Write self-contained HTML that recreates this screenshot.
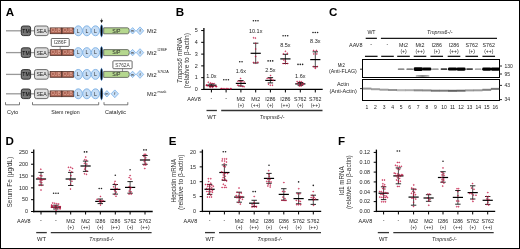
<!DOCTYPE html>
<html><head><meta charset="utf-8"><style>
html,body{margin:0;padding:0;background:#fff;}
body{width:520px;height:249px;overflow:hidden;}
.fig{position:absolute;left:0;top:0;width:518px;height:247px;border:1px solid #000;}
svg{position:absolute;left:0;top:0;font-family:"Liberation Sans", sans-serif;will-change:transform;}
</style></head><body>
<div class="fig"></div>
<svg width="520" height="249" viewBox="0 0 520 249">
<text x="5.8" y="15.7" font-size="11.6" font-weight="bold" fill="#000">A</text>
<text x="175.8" y="15.7" font-size="11.6" font-weight="bold" fill="#000">B</text>
<text x="329.0" y="15.9" font-size="11.6" font-weight="bold" fill="#000">C</text>
<text x="5.6" y="145.1" font-size="11.6" font-weight="bold" fill="#000">D</text>
<text x="168.8" y="145.1" font-size="11.6" font-weight="bold" fill="#000">E</text>
<text x="338.0" y="145.1" font-size="11.6" font-weight="bold" fill="#000">F</text>
<line x1="6" y1="30.8" x2="21" y2="30.8" stroke="#999" stroke-width="1.3"/>
<line x1="30" y1="30.8" x2="35" y2="30.8" stroke="#999" stroke-width="1.3"/>
<line x1="48" y1="30.8" x2="50.5" y2="30.8" stroke="#999" stroke-width="1.3"/>
<rect x="21.3" y="26.0" width="9.3" height="9.6" rx="2" fill="#777" stroke="#262626" stroke-width="0.9"/>
<text x="25.95" y="32.8" font-size="5.5" text-anchor="middle" textLength="7.4" lengthAdjust="spacingAndGlyphs" fill="#000">TM</text>
<rect x="34.5" y="26.0" width="13.7" height="9.6" rx="2" fill="#dedede" stroke="#4a4a4a" stroke-width="0.8"/>
<text x="41.5" y="32.8" font-size="5.6" text-anchor="middle" textLength="10.2" lengthAdjust="spacingAndGlyphs" fill="#222">SEA</text>
<rect x="50.1" y="27.900000000000002" width="11.6" height="5.8" fill="#ad6656" stroke="#4a2c24" stroke-width="0.75"/>
<text x="55.9" y="32.4" font-size="4.5" text-anchor="middle" textLength="9.6" lengthAdjust="spacingAndGlyphs" fill="#e8b0a0">CUB</text>
<rect x="62" y="27.900000000000002" width="11.6" height="5.8" fill="#ad6656" stroke="#4a2c24" stroke-width="0.75"/>
<text x="67.8" y="32.4" font-size="4.5" text-anchor="middle" textLength="9.6" lengthAdjust="spacingAndGlyphs" fill="#e8b0a0">CUB</text>
<ellipse cx="78.25" cy="30.8" rx="4.1" ry="4.95" fill="#c6ddf5" stroke="#7cb0e4" stroke-width="0.9"/>
<text x="78.25" y="32.6" font-size="5.1" text-anchor="middle" fill="#2a2a2a">L</text>
<ellipse cx="86.8" cy="30.8" rx="4.1" ry="4.95" fill="#c6ddf5" stroke="#7cb0e4" stroke-width="0.9"/>
<text x="86.8" y="32.6" font-size="5.1" text-anchor="middle" fill="#2a2a2a">L</text>
<ellipse cx="95.45" cy="30.8" rx="4.1" ry="4.95" fill="#c6ddf5" stroke="#7cb0e4" stroke-width="0.9"/>
<text x="95.45" y="32.6" font-size="5.1" text-anchor="middle" fill="#2a2a2a">L</text>
<ellipse cx="101.55" cy="30.8" rx="1.2" ry="6.1" fill="#000" stroke="#2f7fd6" stroke-width="0.5"/>
<path d="M103.7 27.8 H127.5 Q129.3 27.8 129.3 30.8 Q129.3 33.8 127.5 33.8 H103.7 Z" fill="#b5d78e" stroke="#454545" stroke-width="0.7"/>
<text x="116.4" y="32.6" font-size="5.2" text-anchor="middle" fill="#222">S/P</text>
<path d="M129.6 30.8 L132.6 27.6 L135.6 30.8 L132.6 34.0 Z" fill="#c9e0f7" stroke="#6aa7e6" stroke-width="0.7"/>
<text x="132.6" y="32.0" font-size="3.8" text-anchor="middle" fill="#222">m</text>
<path d="M136.3 30.8 L140.0 26.900000000000002 L143.7 30.8 L140.0 34.7 Z" fill="#c9e0f7" stroke="#6aa7e6" stroke-width="0.7"/>
<text x="140.0" y="32.2" font-size="4.0" text-anchor="middle" fill="#222">f</text>
<line x1="6" y1="52.6" x2="21" y2="52.6" stroke="#999" stroke-width="1.3"/>
<line x1="30" y1="52.6" x2="35" y2="52.6" stroke="#999" stroke-width="1.3"/>
<line x1="48" y1="52.6" x2="50.5" y2="52.6" stroke="#999" stroke-width="1.3"/>
<rect x="21.3" y="47.800000000000004" width="9.3" height="9.6" rx="2" fill="#777" stroke="#262626" stroke-width="0.9"/>
<text x="25.95" y="54.6" font-size="5.5" text-anchor="middle" textLength="7.4" lengthAdjust="spacingAndGlyphs" fill="#000">TM</text>
<rect x="34.5" y="47.800000000000004" width="13.7" height="9.6" rx="2" fill="#dedede" stroke="#4a4a4a" stroke-width="0.8"/>
<text x="41.5" y="54.6" font-size="5.6" text-anchor="middle" textLength="10.2" lengthAdjust="spacingAndGlyphs" fill="#222">SEA</text>
<rect x="50.1" y="49.7" width="11.6" height="5.8" fill="#ad6656" stroke="#4a2c24" stroke-width="0.75"/>
<text x="55.9" y="54.2" font-size="4.5" text-anchor="middle" textLength="9.6" lengthAdjust="spacingAndGlyphs" fill="#e8b0a0">CUB</text>
<rect x="62" y="49.7" width="11.6" height="5.8" fill="#ad6656" stroke="#4a2c24" stroke-width="0.75"/>
<text x="67.8" y="54.2" font-size="4.5" text-anchor="middle" textLength="9.6" lengthAdjust="spacingAndGlyphs" fill="#e8b0a0">CUB</text>
<ellipse cx="78.25" cy="52.6" rx="4.1" ry="4.95" fill="#c6ddf5" stroke="#7cb0e4" stroke-width="0.9"/>
<text x="78.25" y="54.4" font-size="5.1" text-anchor="middle" fill="#2a2a2a">L</text>
<ellipse cx="86.8" cy="52.6" rx="4.1" ry="4.95" fill="#c6ddf5" stroke="#7cb0e4" stroke-width="0.9"/>
<text x="86.8" y="54.4" font-size="5.1" text-anchor="middle" fill="#2a2a2a">L</text>
<ellipse cx="95.45" cy="52.6" rx="4.1" ry="4.95" fill="#c6ddf5" stroke="#7cb0e4" stroke-width="0.9"/>
<text x="95.45" y="54.4" font-size="5.1" text-anchor="middle" fill="#2a2a2a">L</text>
<ellipse cx="101.55" cy="52.6" rx="1.2" ry="6.1" fill="#000" stroke="#2f7fd6" stroke-width="0.5"/>
<path d="M103.7 49.6 H127.5 Q129.3 49.6 129.3 52.6 Q129.3 55.6 127.5 55.6 H103.7 Z" fill="#b5d78e" stroke="#454545" stroke-width="0.7"/>
<text x="116.4" y="54.4" font-size="5.2" text-anchor="middle" fill="#222">S/P</text>
<path d="M129.6 52.6 L132.6 49.4 L135.6 52.6 L132.6 55.800000000000004 Z" fill="#c9e0f7" stroke="#6aa7e6" stroke-width="0.7"/>
<text x="132.6" y="53.800000000000004" font-size="3.8" text-anchor="middle" fill="#222">m</text>
<path d="M136.3 52.6 L140.0 48.7 L143.7 52.6 L140.0 56.5 Z" fill="#c9e0f7" stroke="#6aa7e6" stroke-width="0.7"/>
<text x="140.0" y="54.0" font-size="4.0" text-anchor="middle" fill="#222">f</text>
<line x1="6" y1="74.4" x2="21" y2="74.4" stroke="#999" stroke-width="1.3"/>
<line x1="30" y1="74.4" x2="35" y2="74.4" stroke="#999" stroke-width="1.3"/>
<line x1="48" y1="74.4" x2="50.5" y2="74.4" stroke="#999" stroke-width="1.3"/>
<rect x="21.3" y="69.60000000000001" width="9.3" height="9.6" rx="2" fill="#777" stroke="#262626" stroke-width="0.9"/>
<text x="25.95" y="76.4" font-size="5.5" text-anchor="middle" textLength="7.4" lengthAdjust="spacingAndGlyphs" fill="#000">TM</text>
<rect x="34.5" y="69.60000000000001" width="13.7" height="9.6" rx="2" fill="#dedede" stroke="#4a4a4a" stroke-width="0.8"/>
<text x="41.5" y="76.4" font-size="5.6" text-anchor="middle" textLength="10.2" lengthAdjust="spacingAndGlyphs" fill="#222">SEA</text>
<rect x="50.1" y="71.5" width="11.6" height="5.8" fill="#ad6656" stroke="#4a2c24" stroke-width="0.75"/>
<text x="55.9" y="76.0" font-size="4.5" text-anchor="middle" textLength="9.6" lengthAdjust="spacingAndGlyphs" fill="#e8b0a0">CUB</text>
<rect x="62" y="71.5" width="11.6" height="5.8" fill="#ad6656" stroke="#4a2c24" stroke-width="0.75"/>
<text x="67.8" y="76.0" font-size="4.5" text-anchor="middle" textLength="9.6" lengthAdjust="spacingAndGlyphs" fill="#e8b0a0">CUB</text>
<ellipse cx="78.25" cy="74.4" rx="4.1" ry="4.95" fill="#c6ddf5" stroke="#7cb0e4" stroke-width="0.9"/>
<text x="78.25" y="76.2" font-size="5.1" text-anchor="middle" fill="#2a2a2a">L</text>
<ellipse cx="86.8" cy="74.4" rx="4.1" ry="4.95" fill="#c6ddf5" stroke="#7cb0e4" stroke-width="0.9"/>
<text x="86.8" y="76.2" font-size="5.1" text-anchor="middle" fill="#2a2a2a">L</text>
<ellipse cx="95.45" cy="74.4" rx="4.1" ry="4.95" fill="#c6ddf5" stroke="#7cb0e4" stroke-width="0.9"/>
<text x="95.45" y="76.2" font-size="5.1" text-anchor="middle" fill="#2a2a2a">L</text>
<ellipse cx="101.55" cy="74.4" rx="1.2" ry="6.1" fill="#000" stroke="#2f7fd6" stroke-width="0.5"/>
<path d="M103.7 71.4 H127.5 Q129.3 71.4 129.3 74.4 Q129.3 77.4 127.5 77.4 H103.7 Z" fill="#b5d78e" stroke="#454545" stroke-width="0.7"/>
<text x="116.4" y="76.2" font-size="5.2" text-anchor="middle" fill="#222">S/P</text>
<path d="M129.6 74.4 L132.6 71.2 L135.6 74.4 L132.6 77.60000000000001 Z" fill="#c9e0f7" stroke="#6aa7e6" stroke-width="0.7"/>
<text x="132.6" y="75.60000000000001" font-size="3.8" text-anchor="middle" fill="#222">m</text>
<path d="M136.3 74.4 L140.0 70.5 L143.7 74.4 L140.0 78.30000000000001 Z" fill="#c9e0f7" stroke="#6aa7e6" stroke-width="0.7"/>
<text x="140.0" y="75.80000000000001" font-size="4.0" text-anchor="middle" fill="#222">f</text>
<line x1="6" y1="93.8" x2="21" y2="93.8" stroke="#999" stroke-width="1.3"/>
<line x1="30" y1="93.8" x2="35" y2="93.8" stroke="#999" stroke-width="1.3"/>
<line x1="48" y1="93.8" x2="50.5" y2="93.8" stroke="#999" stroke-width="1.3"/>
<rect x="21.3" y="89.0" width="9.3" height="9.6" rx="2" fill="#777" stroke="#262626" stroke-width="0.9"/>
<text x="25.95" y="95.8" font-size="5.5" text-anchor="middle" textLength="7.4" lengthAdjust="spacingAndGlyphs" fill="#000">TM</text>
<rect x="34.5" y="89.0" width="13.7" height="9.6" rx="2" fill="#dedede" stroke="#4a4a4a" stroke-width="0.8"/>
<text x="41.5" y="95.8" font-size="5.6" text-anchor="middle" textLength="10.2" lengthAdjust="spacingAndGlyphs" fill="#222">SEA</text>
<rect x="50.1" y="90.89999999999999" width="11.6" height="5.8" fill="#ad6656" stroke="#4a2c24" stroke-width="0.75"/>
<text x="55.9" y="95.39999999999999" font-size="4.5" text-anchor="middle" textLength="9.6" lengthAdjust="spacingAndGlyphs" fill="#e8b0a0">CUB</text>
<rect x="62" y="90.89999999999999" width="11.6" height="5.8" fill="#ad6656" stroke="#4a2c24" stroke-width="0.75"/>
<text x="67.8" y="95.39999999999999" font-size="4.5" text-anchor="middle" textLength="9.6" lengthAdjust="spacingAndGlyphs" fill="#e8b0a0">CUB</text>
<ellipse cx="78.25" cy="93.8" rx="4.1" ry="4.95" fill="#c6ddf5" stroke="#7cb0e4" stroke-width="0.9"/>
<text x="78.25" y="95.6" font-size="5.1" text-anchor="middle" fill="#2a2a2a">L</text>
<ellipse cx="86.8" cy="93.8" rx="4.1" ry="4.95" fill="#c6ddf5" stroke="#7cb0e4" stroke-width="0.9"/>
<text x="86.8" y="95.6" font-size="5.1" text-anchor="middle" fill="#2a2a2a">L</text>
<ellipse cx="95.45" cy="93.8" rx="4.1" ry="4.95" fill="#c6ddf5" stroke="#7cb0e4" stroke-width="0.9"/>
<text x="95.45" y="95.6" font-size="5.1" text-anchor="middle" fill="#2a2a2a">L</text>
<ellipse cx="101.55" cy="93.8" rx="1.2" ry="6.1" fill="#000" stroke="#2f7fd6" stroke-width="0.5"/>
<path d="M103.9 93.8 L106.9 90.6 L109.9 93.8 L106.9 97.0 Z" fill="#c9e0f7" stroke="#6aa7e6" stroke-width="0.7"/>
<text x="106.9" y="95.0" font-size="3.8" text-anchor="middle" fill="#222">m</text>
<path d="M111.1 93.8 L114.8 89.89999999999999 L118.5 93.8 L114.8 97.7 Z" fill="#c9e0f7" stroke="#6aa7e6" stroke-width="0.7"/>
<text x="114.8" y="95.2" font-size="4.0" text-anchor="middle" fill="#222">f</text>
<text x="147.1" y="32.9" font-size="5.7" textLength="9.5" lengthAdjust="spacingAndGlyphs" fill="#222">Mt2</text>
<text x="147.1" y="54.7" font-size="5.7" textLength="9.5" lengthAdjust="spacingAndGlyphs" fill="#222">Mt2</text>
<text x="157.5" y="51.3" font-size="4.2" textLength="9.6" lengthAdjust="spacingAndGlyphs" fill="#222">I286F</text>
<text x="147.1" y="76.5" font-size="5.7" textLength="9.5" lengthAdjust="spacingAndGlyphs" fill="#222">Mt2</text>
<text x="157.5" y="73.1" font-size="4.2" textLength="11.2" lengthAdjust="spacingAndGlyphs" fill="#222">S762A</text>
<text x="147.1" y="95.9" font-size="5.7" textLength="9.5" lengthAdjust="spacingAndGlyphs" fill="#222">Mt2</text>
<text x="157.5" y="92.5" font-size="4.2" textLength="9.0" lengthAdjust="spacingAndGlyphs" fill="#222">mask</text>
<rect x="51.3" y="38.5" width="17.9" height="7.9" rx="0.8" fill="#fff" stroke="#444" stroke-width="0.8"/>
<text x="60.2" y="44.4" font-size="5.2" text-anchor="middle" textLength="12.8" lengthAdjust="spacingAndGlyphs" fill="#444">I286F</text>
<line x1="60.2" y1="46.2" x2="60.2" y2="50" stroke="#555" stroke-width="0.6"/>
<rect x="112.9" y="60.8" width="19.2" height="7.9" rx="0.8" fill="#fff" stroke="#444" stroke-width="0.8"/>
<text x="122.5" y="66.7" font-size="5.2" text-anchor="middle" textLength="14.5" lengthAdjust="spacingAndGlyphs" fill="#444">S762A</text>
<line x1="122.5" y1="68.6" x2="122.5" y2="71.6" stroke="#555" stroke-width="0.6"/>
<line x1="101.6" y1="18.6" x2="101.6" y2="21" stroke="#222" stroke-width="0.6"/>
<path d="M100.1 20.3 L103.1 20.3 L101.6 23.1 Z" fill="#111"/>
<path d="M5.5 102.2 V104.8 H19.5 V102.2" fill="none" stroke="#555" stroke-width="0.8"/>
<path d="M32.5 102.2 V104.8 H98.7 V102.2" fill="none" stroke="#555" stroke-width="0.8"/>
<path d="M104 102.2 V104.8 H127.8 V102.2" fill="none" stroke="#555" stroke-width="0.8"/>
<text x="12.6" y="113.9" font-size="5.4" text-anchor="middle" textLength="11.2" lengthAdjust="spacingAndGlyphs" fill="#222">Cyto</text>
<text x="65.4" y="113.9" font-size="5.4" text-anchor="middle" textLength="28.5" lengthAdjust="spacingAndGlyphs" fill="#222">Stem region</text>
<text x="115.6" y="113.9" font-size="5.4" text-anchor="middle" textLength="21" lengthAdjust="spacingAndGlyphs" fill="#222">Catalytic</text>
<line x1="203.9" y1="27.9" x2="203.9" y2="90.10000000000001" stroke="#000" stroke-width="1.3"/>
<line x1="203.25" y1="89.45" x2="322.7" y2="89.45" stroke="#000" stroke-width="1.3"/>
<line x1="201.20000000000002" y1="89.45" x2="203.9" y2="89.45" stroke="#000" stroke-width="1.0"/>
<text x="197.7" y="91.25" font-size="5.4" text-anchor="end" fill="#222">0</text>
<line x1="201.20000000000002" y1="77.67" x2="203.9" y2="77.67" stroke="#000" stroke-width="1.0"/>
<text x="197.7" y="79.47" font-size="5.4" text-anchor="end" fill="#222">1</text>
<line x1="201.20000000000002" y1="65.89" x2="203.9" y2="65.89" stroke="#000" stroke-width="1.0"/>
<text x="197.7" y="67.69" font-size="5.4" text-anchor="end" fill="#222">2</text>
<line x1="201.20000000000002" y1="54.11000000000001" x2="203.9" y2="54.11000000000001" stroke="#000" stroke-width="1.0"/>
<text x="197.7" y="55.910000000000004" font-size="5.4" text-anchor="end" fill="#222">3</text>
<line x1="201.20000000000002" y1="42.330000000000005" x2="203.9" y2="42.330000000000005" stroke="#000" stroke-width="1.0"/>
<text x="197.7" y="44.13" font-size="5.4" text-anchor="end" fill="#222">4</text>
<line x1="201.20000000000002" y1="30.550000000000004" x2="203.9" y2="30.550000000000004" stroke="#000" stroke-width="1.0"/>
<text x="197.7" y="32.35" font-size="5.4" text-anchor="end" fill="#222">5</text>
<line x1="211.4" y1="89.45" x2="211.4" y2="92.45" stroke="#000" stroke-width="1.0"/>
<line x1="226.1" y1="89.45" x2="226.1" y2="92.45" stroke="#000" stroke-width="1.0"/>
<line x1="240.9" y1="89.45" x2="240.9" y2="92.45" stroke="#000" stroke-width="1.0"/>
<line x1="255.7" y1="89.45" x2="255.7" y2="92.45" stroke="#000" stroke-width="1.0"/>
<line x1="270.4" y1="89.45" x2="270.4" y2="92.45" stroke="#000" stroke-width="1.0"/>
<line x1="285.4" y1="89.45" x2="285.4" y2="92.45" stroke="#000" stroke-width="1.0"/>
<line x1="300.3" y1="89.45" x2="300.3" y2="92.45" stroke="#000" stroke-width="1.0"/>
<line x1="315.3" y1="89.45" x2="315.3" y2="92.45" stroke="#000" stroke-width="1.0"/>
<text transform="translate(182.1,60.2) rotate(-90)" x="0" y="0" font-size="6.5" text-anchor="middle" fill="#333" textLength="46.3" lengthAdjust="spacingAndGlyphs"><tspan font-style="italic">Tmprss6</tspan> mRNA</text>
<text transform="translate(189.0,60.7) rotate(-90)" x="0" y="0" font-size="6.5" text-anchor="middle" fill="#333" textLength="55.5" lengthAdjust="spacingAndGlyphs">(relative to β-actin)</text>
<line x1="211.4" y1="84" x2="211.4" y2="86.5" stroke="#222" stroke-width="0.8"/>
<line x1="208.70000000000002" y1="84" x2="214.1" y2="84" stroke="#111" stroke-width="0.9"/>
<line x1="208.70000000000002" y1="86.5" x2="214.1" y2="86.5" stroke="#111" stroke-width="0.9"/>
<line x1="206.3" y1="85.2" x2="216.5" y2="85.2" stroke="#000" stroke-width="1.2"/>
<circle cx="208.29" cy="82.20" r="0.5" fill="#c0103f" fill-opacity="0.7" stroke="#c0103f" stroke-width="0.5"/>
<circle cx="210.56" cy="82.96" r="0.5" fill="#c0103f" fill-opacity="0.7" stroke="#c0103f" stroke-width="0.5"/>
<circle cx="212.22" cy="83.51" r="0.5" fill="#c0103f" fill-opacity="0.7" stroke="#c0103f" stroke-width="0.5"/>
<circle cx="214.21" cy="83.67" r="0.5" fill="#c0103f" fill-opacity="0.7" stroke="#c0103f" stroke-width="0.5"/>
<circle cx="206.40" cy="85.03" r="0.5" fill="#c0103f" fill-opacity="0.7" stroke="#c0103f" stroke-width="0.5"/>
<circle cx="206.40" cy="85.49" r="0.5" fill="#c0103f" fill-opacity="0.7" stroke="#c0103f" stroke-width="0.5"/>
<circle cx="207.48" cy="85.75" r="0.5" fill="#c0103f" fill-opacity="0.7" stroke="#c0103f" stroke-width="0.5"/>
<circle cx="209.68" cy="85.97" r="0.5" fill="#c0103f" fill-opacity="0.7" stroke="#c0103f" stroke-width="0.5"/>
<circle cx="211.23" cy="86.17" r="0.5" fill="#c0103f" fill-opacity="0.7" stroke="#c0103f" stroke-width="0.5"/>
<circle cx="213.67" cy="86.20" r="0.5" fill="#c0103f" fill-opacity="0.7" stroke="#c0103f" stroke-width="0.5"/>
<circle cx="215.43" cy="86.43" r="0.5" fill="#c0103f" fill-opacity="0.7" stroke="#c0103f" stroke-width="0.5"/>
<circle cx="216.40" cy="86.46" r="0.5" fill="#c0103f" fill-opacity="0.7" stroke="#c0103f" stroke-width="0.5"/>
<circle cx="216.40" cy="86.60" r="0.5" fill="#c0103f" fill-opacity="0.7" stroke="#c0103f" stroke-width="0.5"/>
<circle cx="210.20" cy="87.40" r="0.5" fill="#c0103f" fill-opacity="0.7" stroke="#c0103f" stroke-width="0.5"/>
<circle cx="212.49" cy="87.40" r="0.5" fill="#c0103f" fill-opacity="0.7" stroke="#c0103f" stroke-width="0.5"/>
<text x="211.4" y="78.39999999999999" font-size="5.5" text-anchor="middle" fill="#222">1.0x</text>
<circle cx="221.10" cy="88.50" r="0.5" fill="#c0103f" fill-opacity="0.7" stroke="#c0103f" stroke-width="0.5"/>
<circle cx="221.93" cy="88.52" r="0.5" fill="#c0103f" fill-opacity="0.7" stroke="#c0103f" stroke-width="0.5"/>
<circle cx="223.97" cy="88.57" r="0.5" fill="#c0103f" fill-opacity="0.7" stroke="#c0103f" stroke-width="0.5"/>
<circle cx="226.22" cy="88.57" r="0.5" fill="#c0103f" fill-opacity="0.7" stroke="#c0103f" stroke-width="0.5"/>
<circle cx="227.93" cy="88.58" r="0.5" fill="#c0103f" fill-opacity="0.7" stroke="#c0103f" stroke-width="0.5"/>
<circle cx="230.38" cy="88.70" r="0.5" fill="#c0103f" fill-opacity="0.7" stroke="#c0103f" stroke-width="0.5"/>
<circle cx="231.10" cy="88.70" r="0.5" fill="#c0103f" fill-opacity="0.7" stroke="#c0103f" stroke-width="0.5"/>
<circle cx="223.80" cy="79.7" r="0.8" fill="#222"/>
<circle cx="226.10" cy="79.7" r="0.8" fill="#222"/>
<circle cx="228.40" cy="79.7" r="0.8" fill="#222"/>
<line x1="240.9" y1="80.5" x2="240.9" y2="86" stroke="#222" stroke-width="0.8"/>
<line x1="238.20000000000002" y1="80.5" x2="243.6" y2="80.5" stroke="#111" stroke-width="0.9"/>
<line x1="238.20000000000002" y1="86" x2="243.6" y2="86" stroke="#111" stroke-width="0.9"/>
<line x1="235.8" y1="83.4" x2="246.0" y2="83.4" stroke="#000" stroke-width="1.2"/>
<circle cx="240.63" cy="78.40" r="0.5" fill="#c0103f" fill-opacity="0.7" stroke="#c0103f" stroke-width="0.5"/>
<circle cx="237.92" cy="81.20" r="0.5" fill="#c0103f" fill-opacity="0.7" stroke="#c0103f" stroke-width="0.5"/>
<circle cx="239.97" cy="81.39" r="0.5" fill="#c0103f" fill-opacity="0.7" stroke="#c0103f" stroke-width="0.5"/>
<circle cx="241.91" cy="81.63" r="0.5" fill="#c0103f" fill-opacity="0.7" stroke="#c0103f" stroke-width="0.5"/>
<circle cx="244.10" cy="81.98" r="0.5" fill="#c0103f" fill-opacity="0.7" stroke="#c0103f" stroke-width="0.5"/>
<circle cx="237.70" cy="85.16" r="0.5" fill="#c0103f" fill-opacity="0.7" stroke="#c0103f" stroke-width="0.5"/>
<circle cx="238.83" cy="85.30" r="0.5" fill="#c0103f" fill-opacity="0.7" stroke="#c0103f" stroke-width="0.5"/>
<circle cx="240.74" cy="85.96" r="0.5" fill="#c0103f" fill-opacity="0.7" stroke="#c0103f" stroke-width="0.5"/>
<circle cx="242.68" cy="86.59" r="0.5" fill="#c0103f" fill-opacity="0.7" stroke="#c0103f" stroke-width="0.5"/>
<circle cx="244.10" cy="86.70" r="0.5" fill="#c0103f" fill-opacity="0.7" stroke="#c0103f" stroke-width="0.5"/>
<circle cx="239.75" cy="61.7" r="0.8" fill="#222"/>
<circle cx="242.05" cy="61.7" r="0.8" fill="#222"/>
<text x="240.9" y="72.8" font-size="5.5" text-anchor="middle" fill="#222">1.6x</text>
<line x1="255.7" y1="43.2" x2="255.7" y2="63" stroke="#222" stroke-width="0.8"/>
<line x1="253.0" y1="43.2" x2="258.4" y2="43.2" stroke="#111" stroke-width="0.9"/>
<line x1="253.0" y1="63" x2="258.4" y2="63" stroke="#111" stroke-width="0.9"/>
<line x1="250.6" y1="53.3" x2="260.8" y2="53.3" stroke="#000" stroke-width="1.2"/>
<circle cx="253.60" cy="37.80" r="0.5" fill="#c0103f" fill-opacity="0.7" stroke="#c0103f" stroke-width="0.5"/>
<circle cx="255.40" cy="38.10" r="0.5" fill="#c0103f" fill-opacity="0.7" stroke="#c0103f" stroke-width="0.5"/>
<circle cx="255.70" cy="43.30" r="0.5" fill="#c0103f" fill-opacity="0.7" stroke="#c0103f" stroke-width="0.5"/>
<circle cx="255.70" cy="49.00" r="0.5" fill="#c0103f" fill-opacity="0.7" stroke="#c0103f" stroke-width="0.5"/>
<circle cx="255.70" cy="56.50" r="0.5" fill="#c0103f" fill-opacity="0.7" stroke="#c0103f" stroke-width="0.5"/>
<circle cx="253.40" cy="62.40" r="0.5" fill="#c0103f" fill-opacity="0.7" stroke="#c0103f" stroke-width="0.5"/>
<circle cx="255.70" cy="63.10" r="0.5" fill="#c0103f" fill-opacity="0.7" stroke="#c0103f" stroke-width="0.5"/>
<circle cx="257.90" cy="62.20" r="0.5" fill="#c0103f" fill-opacity="0.7" stroke="#c0103f" stroke-width="0.5"/>
<circle cx="253.40" cy="20.7" r="0.8" fill="#222"/>
<circle cx="255.70" cy="20.7" r="0.8" fill="#222"/>
<circle cx="258.00" cy="20.7" r="0.8" fill="#222"/>
<text x="255.7" y="32.9" font-size="5.5" text-anchor="middle" fill="#222">10.1x</text>
<line x1="270.4" y1="77.6" x2="270.4" y2="82.9" stroke="#222" stroke-width="0.8"/>
<line x1="267.7" y1="77.6" x2="273.09999999999997" y2="77.6" stroke="#111" stroke-width="0.9"/>
<line x1="267.7" y1="82.9" x2="273.09999999999997" y2="82.9" stroke="#111" stroke-width="0.9"/>
<line x1="265.29999999999995" y1="80.4" x2="275.5" y2="80.4" stroke="#000" stroke-width="1.2"/>
<circle cx="270.58" cy="75.50" r="0.5" fill="#c0103f" fill-opacity="0.7" stroke="#c0103f" stroke-width="0.5"/>
<circle cx="267.20" cy="78.33" r="0.5" fill="#c0103f" fill-opacity="0.7" stroke="#c0103f" stroke-width="0.5"/>
<circle cx="269.20" cy="78.48" r="0.5" fill="#c0103f" fill-opacity="0.7" stroke="#c0103f" stroke-width="0.5"/>
<circle cx="271.64" cy="79.04" r="0.5" fill="#c0103f" fill-opacity="0.7" stroke="#c0103f" stroke-width="0.5"/>
<circle cx="273.17" cy="80.18" r="0.5" fill="#c0103f" fill-opacity="0.7" stroke="#c0103f" stroke-width="0.5"/>
<circle cx="268.49" cy="84.13" r="0.5" fill="#c0103f" fill-opacity="0.7" stroke="#c0103f" stroke-width="0.5"/>
<circle cx="270.30" cy="85.20" r="0.5" fill="#c0103f" fill-opacity="0.7" stroke="#c0103f" stroke-width="0.5"/>
<circle cx="272.49" cy="85.20" r="0.5" fill="#c0103f" fill-opacity="0.7" stroke="#c0103f" stroke-width="0.5"/>
<circle cx="268.10" cy="60.9" r="0.8" fill="#222"/>
<circle cx="270.40" cy="60.9" r="0.8" fill="#222"/>
<circle cx="272.70" cy="60.9" r="0.8" fill="#222"/>
<text x="270.4" y="71.89999999999999" font-size="5.5" text-anchor="middle" fill="#222">2.5x</text>
<line x1="285.4" y1="54.3" x2="285.4" y2="63.5" stroke="#222" stroke-width="0.8"/>
<line x1="282.7" y1="54.3" x2="288.09999999999997" y2="54.3" stroke="#111" stroke-width="0.9"/>
<line x1="282.7" y1="63.5" x2="288.09999999999997" y2="63.5" stroke="#111" stroke-width="0.9"/>
<line x1="280.29999999999995" y1="58.9" x2="290.5" y2="58.9" stroke="#000" stroke-width="1.2"/>
<circle cx="285.40" cy="51.30" r="0.5" fill="#c0103f" fill-opacity="0.7" stroke="#c0103f" stroke-width="0.5"/>
<circle cx="283.50" cy="53.90" r="0.5" fill="#c0103f" fill-opacity="0.7" stroke="#c0103f" stroke-width="0.5"/>
<circle cx="287.30" cy="53.30" r="0.5" fill="#c0103f" fill-opacity="0.7" stroke="#c0103f" stroke-width="0.5"/>
<circle cx="283.80" cy="60.00" r="0.5" fill="#c0103f" fill-opacity="0.7" stroke="#c0103f" stroke-width="0.5"/>
<circle cx="285.60" cy="61.20" r="0.5" fill="#c0103f" fill-opacity="0.7" stroke="#c0103f" stroke-width="0.5"/>
<circle cx="283.10" cy="63.60" r="0.5" fill="#c0103f" fill-opacity="0.7" stroke="#c0103f" stroke-width="0.5"/>
<circle cx="285.40" cy="63.70" r="0.5" fill="#c0103f" fill-opacity="0.7" stroke="#c0103f" stroke-width="0.5"/>
<circle cx="287.70" cy="63.60" r="0.5" fill="#c0103f" fill-opacity="0.7" stroke="#c0103f" stroke-width="0.5"/>
<circle cx="283.10" cy="35.7" r="0.8" fill="#222"/>
<circle cx="285.40" cy="35.7" r="0.8" fill="#222"/>
<circle cx="287.70" cy="35.7" r="0.8" fill="#222"/>
<text x="285.4" y="47.1" font-size="5.5" text-anchor="middle" fill="#222">8.5x</text>
<line x1="300.3" y1="82.5" x2="300.3" y2="85.3" stroke="#222" stroke-width="0.8"/>
<line x1="297.6" y1="82.5" x2="303.0" y2="82.5" stroke="#111" stroke-width="0.9"/>
<line x1="297.6" y1="85.3" x2="303.0" y2="85.3" stroke="#111" stroke-width="0.9"/>
<line x1="295.2" y1="83.9" x2="305.40000000000003" y2="83.9" stroke="#000" stroke-width="1.2"/>
<circle cx="297.11" cy="81.50" r="0.5" fill="#c0103f" fill-opacity="0.7" stroke="#c0103f" stroke-width="0.5"/>
<circle cx="299.58" cy="81.50" r="0.5" fill="#c0103f" fill-opacity="0.7" stroke="#c0103f" stroke-width="0.5"/>
<circle cx="301.22" cy="81.78" r="0.5" fill="#c0103f" fill-opacity="0.7" stroke="#c0103f" stroke-width="0.5"/>
<circle cx="303.27" cy="83.24" r="0.5" fill="#c0103f" fill-opacity="0.7" stroke="#c0103f" stroke-width="0.5"/>
<circle cx="297.39" cy="83.51" r="0.5" fill="#c0103f" fill-opacity="0.7" stroke="#c0103f" stroke-width="0.5"/>
<circle cx="299.41" cy="84.08" r="0.5" fill="#c0103f" fill-opacity="0.7" stroke="#c0103f" stroke-width="0.5"/>
<circle cx="301.45" cy="84.21" r="0.5" fill="#c0103f" fill-opacity="0.7" stroke="#c0103f" stroke-width="0.5"/>
<circle cx="303.17" cy="84.68" r="0.5" fill="#c0103f" fill-opacity="0.7" stroke="#c0103f" stroke-width="0.5"/>
<circle cx="299.29" cy="86.00" r="0.5" fill="#c0103f" fill-opacity="0.7" stroke="#c0103f" stroke-width="0.5"/>
<circle cx="301.08" cy="86.00" r="0.5" fill="#c0103f" fill-opacity="0.7" stroke="#c0103f" stroke-width="0.5"/>
<circle cx="298.00" cy="64.4" r="0.8" fill="#222"/>
<circle cx="300.30" cy="64.4" r="0.8" fill="#222"/>
<circle cx="302.60" cy="64.4" r="0.8" fill="#222"/>
<text x="300.3" y="77.69999999999999" font-size="5.5" text-anchor="middle" fill="#222">1.6x</text>
<line x1="315.3" y1="51.8" x2="315.3" y2="66.7" stroke="#222" stroke-width="0.8"/>
<line x1="312.6" y1="51.8" x2="318.0" y2="51.8" stroke="#111" stroke-width="0.9"/>
<line x1="312.6" y1="66.7" x2="318.0" y2="66.7" stroke="#111" stroke-width="0.9"/>
<line x1="310.2" y1="59.6" x2="320.40000000000003" y2="59.6" stroke="#000" stroke-width="1.2"/>
<circle cx="313.60" cy="50.40" r="0.5" fill="#c0103f" fill-opacity="0.7" stroke="#c0103f" stroke-width="0.5"/>
<circle cx="316.40" cy="50.40" r="0.5" fill="#c0103f" fill-opacity="0.7" stroke="#c0103f" stroke-width="0.5"/>
<circle cx="313.80" cy="53.90" r="0.5" fill="#c0103f" fill-opacity="0.7" stroke="#c0103f" stroke-width="0.5"/>
<circle cx="316.80" cy="53.90" r="0.5" fill="#c0103f" fill-opacity="0.7" stroke="#c0103f" stroke-width="0.5"/>
<circle cx="313.50" cy="66.50" r="0.5" fill="#c0103f" fill-opacity="0.7" stroke="#c0103f" stroke-width="0.5"/>
<circle cx="315.30" cy="67.30" r="0.5" fill="#c0103f" fill-opacity="0.7" stroke="#c0103f" stroke-width="0.5"/>
<circle cx="317.20" cy="66.50" r="0.5" fill="#c0103f" fill-opacity="0.7" stroke="#c0103f" stroke-width="0.5"/>
<circle cx="315.30" cy="68.30" r="0.5" fill="#c0103f" fill-opacity="0.7" stroke="#c0103f" stroke-width="0.5"/>
<circle cx="313.00" cy="32.5" r="0.8" fill="#222"/>
<circle cx="315.30" cy="32.5" r="0.8" fill="#222"/>
<circle cx="317.60" cy="32.5" r="0.8" fill="#222"/>
<text x="315.3" y="43.2" font-size="5.5" text-anchor="middle" fill="#222">8.3x</text>
<text x="200.8" y="101" font-size="5.3" text-anchor="end" textLength="13.6" lengthAdjust="spacingAndGlyphs" fill="#222">AAV8</text>
<text x="211.4" y="100.4" font-size="5.3" text-anchor="middle" fill="#222">-</text>
<text x="226.1" y="100.4" font-size="5.3" text-anchor="middle" fill="#222">-</text>
<text x="240.9" y="101" font-size="5.3" text-anchor="middle" fill="#222">Mt2</text>
<text x="240.9" y="107.3" font-size="5.0" text-anchor="middle" fill="#222">(+)</text>
<text x="255.7" y="101" font-size="5.3" text-anchor="middle" fill="#222">Mt2</text>
<text x="255.7" y="107.3" font-size="5.0" text-anchor="middle" fill="#222">(++)</text>
<text x="270.4" y="101" font-size="5.3" text-anchor="middle" fill="#222">I286</text>
<text x="270.4" y="107.3" font-size="5.0" text-anchor="middle" fill="#222">(+)</text>
<text x="285.4" y="101" font-size="5.3" text-anchor="middle" fill="#222">I286</text>
<text x="285.4" y="107.3" font-size="5.0" text-anchor="middle" fill="#222">(++)</text>
<text x="300.3" y="101" font-size="5.3" text-anchor="middle" fill="#222">S762</text>
<text x="300.3" y="107.3" font-size="5.0" text-anchor="middle" fill="#222">(+)</text>
<text x="315.3" y="101" font-size="5.3" text-anchor="middle" fill="#222">S762</text>
<text x="315.3" y="107.3" font-size="5.0" text-anchor="middle" fill="#222">(++)</text>
<line x1="206.5" y1="110.5" x2="216.9" y2="110.5" stroke="#333" stroke-width="1.3"/>
<line x1="221.2" y1="110.5" x2="322.5" y2="110.5" stroke="#333" stroke-width="1.3"/>
<text x="211.7" y="119.2" font-size="5.8" text-anchor="middle" fill="#222">WT</text>
<text x="272.1" y="119.2" font-size="5.3" text-anchor="middle" font-style="italic" textLength="24.8" lengthAdjust="spacingAndGlyphs" fill="#222">Tmprss6-/-</text>
<line x1="33.75" y1="149.6" x2="33.75" y2="212.15" stroke="#000" stroke-width="1.3"/>
<line x1="33.1" y1="211.5" x2="152.7" y2="211.5" stroke="#000" stroke-width="1.3"/>
<line x1="31.05" y1="211.5" x2="33.75" y2="211.5" stroke="#000" stroke-width="1.0"/>
<text x="27.9" y="213.3" font-size="5.4" text-anchor="end" fill="#222">0</text>
<line x1="31.05" y1="199.68" x2="33.75" y2="199.68" stroke="#000" stroke-width="1.0"/>
<text x="27.9" y="201.48000000000002" font-size="5.4" text-anchor="end" fill="#222">50</text>
<line x1="31.05" y1="187.86" x2="33.75" y2="187.86" stroke="#000" stroke-width="1.0"/>
<text x="27.9" y="189.66000000000003" font-size="5.4" text-anchor="end" fill="#222">100</text>
<line x1="31.05" y1="176.04" x2="33.75" y2="176.04" stroke="#000" stroke-width="1.0"/>
<text x="27.9" y="177.84" font-size="5.4" text-anchor="end" fill="#222">150</text>
<line x1="31.05" y1="164.22" x2="33.75" y2="164.22" stroke="#000" stroke-width="1.0"/>
<text x="27.9" y="166.02" font-size="5.4" text-anchor="end" fill="#222">200</text>
<line x1="31.05" y1="152.4" x2="33.75" y2="152.4" stroke="#000" stroke-width="1.0"/>
<text x="27.9" y="154.20000000000002" font-size="5.4" text-anchor="end" fill="#222">250</text>
<line x1="41.0" y1="211.5" x2="41.0" y2="214.5" stroke="#000" stroke-width="1.0"/>
<line x1="55.9" y1="211.5" x2="55.9" y2="214.5" stroke="#000" stroke-width="1.0"/>
<line x1="70.7" y1="211.5" x2="70.7" y2="214.5" stroke="#000" stroke-width="1.0"/>
<line x1="85.6" y1="211.5" x2="85.6" y2="214.5" stroke="#000" stroke-width="1.0"/>
<line x1="100.3" y1="211.5" x2="100.3" y2="214.5" stroke="#000" stroke-width="1.0"/>
<line x1="115.3" y1="211.5" x2="115.3" y2="214.5" stroke="#000" stroke-width="1.0"/>
<line x1="130.1" y1="211.5" x2="130.1" y2="214.5" stroke="#000" stroke-width="1.0"/>
<line x1="145.0" y1="211.5" x2="145.0" y2="214.5" stroke="#000" stroke-width="1.0"/>
<text transform="translate(12.0,182.2) rotate(-90)" x="0" y="0" font-size="6.5" text-anchor="middle" fill="#333" textLength="50.5" lengthAdjust="spacingAndGlyphs">Serum Fe (µg/dL)</text>
<line x1="41.0" y1="172.4" x2="41.0" y2="185.1" stroke="#222" stroke-width="0.8"/>
<line x1="38.3" y1="172.4" x2="43.7" y2="172.4" stroke="#111" stroke-width="0.9"/>
<line x1="38.3" y1="185.1" x2="43.7" y2="185.1" stroke="#111" stroke-width="0.9"/>
<line x1="35.9" y1="179" x2="46.1" y2="179" stroke="#000" stroke-width="1.2"/>
<circle cx="40.82" cy="169.20" r="0.5" fill="#c0103f" fill-opacity="0.7" stroke="#c0103f" stroke-width="0.5"/>
<circle cx="40.21" cy="175.49" r="0.5" fill="#c0103f" fill-opacity="0.7" stroke="#c0103f" stroke-width="0.5"/>
<circle cx="41.88" cy="175.90" r="0.5" fill="#c0103f" fill-opacity="0.7" stroke="#c0103f" stroke-width="0.5"/>
<circle cx="38.12" cy="177.87" r="0.5" fill="#c0103f" fill-opacity="0.7" stroke="#c0103f" stroke-width="0.5"/>
<circle cx="39.91" cy="178.19" r="0.5" fill="#c0103f" fill-opacity="0.7" stroke="#c0103f" stroke-width="0.5"/>
<circle cx="41.76" cy="179.45" r="0.5" fill="#c0103f" fill-opacity="0.7" stroke="#c0103f" stroke-width="0.5"/>
<circle cx="43.96" cy="179.52" r="0.5" fill="#c0103f" fill-opacity="0.7" stroke="#c0103f" stroke-width="0.5"/>
<circle cx="40.11" cy="179.91" r="0.5" fill="#c0103f" fill-opacity="0.7" stroke="#c0103f" stroke-width="0.5"/>
<circle cx="41.99" cy="180.10" r="0.5" fill="#c0103f" fill-opacity="0.7" stroke="#c0103f" stroke-width="0.5"/>
<circle cx="40.09" cy="181.90" r="0.5" fill="#c0103f" fill-opacity="0.7" stroke="#c0103f" stroke-width="0.5"/>
<circle cx="41.77" cy="182.74" r="0.5" fill="#c0103f" fill-opacity="0.7" stroke="#c0103f" stroke-width="0.5"/>
<circle cx="39.78" cy="185.21" r="0.5" fill="#c0103f" fill-opacity="0.7" stroke="#c0103f" stroke-width="0.5"/>
<circle cx="41.78" cy="185.31" r="0.5" fill="#c0103f" fill-opacity="0.7" stroke="#c0103f" stroke-width="0.5"/>
<circle cx="41.00" cy="190.00" r="0.5" fill="#c0103f" fill-opacity="0.7" stroke="#c0103f" stroke-width="0.5"/>
<line x1="55.9" y1="205.2" x2="55.9" y2="209" stroke="#222" stroke-width="0.8"/>
<line x1="53.199999999999996" y1="205.2" x2="58.6" y2="205.2" stroke="#111" stroke-width="0.9"/>
<line x1="53.199999999999996" y1="209" x2="58.6" y2="209" stroke="#111" stroke-width="0.9"/>
<line x1="50.8" y1="207.1" x2="61.0" y2="207.1" stroke="#000" stroke-width="1.2"/>
<circle cx="52.78" cy="202.90" r="0.5" fill="#c0103f" fill-opacity="0.7" stroke="#c0103f" stroke-width="0.5"/>
<circle cx="54.74" cy="203.23" r="0.5" fill="#c0103f" fill-opacity="0.7" stroke="#c0103f" stroke-width="0.5"/>
<circle cx="56.76" cy="203.77" r="0.5" fill="#c0103f" fill-opacity="0.7" stroke="#c0103f" stroke-width="0.5"/>
<circle cx="58.71" cy="203.98" r="0.5" fill="#c0103f" fill-opacity="0.7" stroke="#c0103f" stroke-width="0.5"/>
<circle cx="51.70" cy="204.99" r="0.5" fill="#c0103f" fill-opacity="0.7" stroke="#c0103f" stroke-width="0.5"/>
<circle cx="51.70" cy="205.72" r="0.5" fill="#c0103f" fill-opacity="0.7" stroke="#c0103f" stroke-width="0.5"/>
<circle cx="52.62" cy="205.86" r="0.5" fill="#c0103f" fill-opacity="0.7" stroke="#c0103f" stroke-width="0.5"/>
<circle cx="54.95" cy="206.16" r="0.5" fill="#c0103f" fill-opacity="0.7" stroke="#c0103f" stroke-width="0.5"/>
<circle cx="56.65" cy="206.24" r="0.5" fill="#c0103f" fill-opacity="0.7" stroke="#c0103f" stroke-width="0.5"/>
<circle cx="58.99" cy="206.39" r="0.5" fill="#c0103f" fill-opacity="0.7" stroke="#c0103f" stroke-width="0.5"/>
<circle cx="60.10" cy="206.66" r="0.5" fill="#c0103f" fill-opacity="0.7" stroke="#c0103f" stroke-width="0.5"/>
<circle cx="60.10" cy="206.79" r="0.5" fill="#c0103f" fill-opacity="0.7" stroke="#c0103f" stroke-width="0.5"/>
<circle cx="51.70" cy="207.14" r="0.5" fill="#c0103f" fill-opacity="0.7" stroke="#c0103f" stroke-width="0.5"/>
<circle cx="52.07" cy="207.15" r="0.5" fill="#c0103f" fill-opacity="0.7" stroke="#c0103f" stroke-width="0.5"/>
<circle cx="54.01" cy="207.74" r="0.5" fill="#c0103f" fill-opacity="0.7" stroke="#c0103f" stroke-width="0.5"/>
<circle cx="55.78" cy="207.84" r="0.5" fill="#c0103f" fill-opacity="0.7" stroke="#c0103f" stroke-width="0.5"/>
<circle cx="57.66" cy="208.33" r="0.5" fill="#c0103f" fill-opacity="0.7" stroke="#c0103f" stroke-width="0.5"/>
<circle cx="59.95" cy="208.74" r="0.5" fill="#c0103f" fill-opacity="0.7" stroke="#c0103f" stroke-width="0.5"/>
<circle cx="60.10" cy="208.75" r="0.5" fill="#c0103f" fill-opacity="0.7" stroke="#c0103f" stroke-width="0.5"/>
<circle cx="56.14" cy="210.20" r="0.5" fill="#c0103f" fill-opacity="0.7" stroke="#c0103f" stroke-width="0.5"/>
<circle cx="53.60" cy="193.2" r="0.8" fill="#222"/>
<circle cx="55.90" cy="193.2" r="0.8" fill="#222"/>
<circle cx="58.20" cy="193.2" r="0.8" fill="#222"/>
<line x1="70.7" y1="172.4" x2="70.7" y2="185.5" stroke="#222" stroke-width="0.8"/>
<line x1="68.0" y1="172.4" x2="73.4" y2="172.4" stroke="#111" stroke-width="0.9"/>
<line x1="68.0" y1="185.5" x2="73.4" y2="185.5" stroke="#111" stroke-width="0.9"/>
<line x1="65.60000000000001" y1="179" x2="75.8" y2="179" stroke="#000" stroke-width="1.2"/>
<circle cx="68.42" cy="167.30" r="0.5" fill="#c0103f" fill-opacity="0.7" stroke="#c0103f" stroke-width="0.5"/>
<circle cx="70.72" cy="167.30" r="0.5" fill="#c0103f" fill-opacity="0.7" stroke="#c0103f" stroke-width="0.5"/>
<circle cx="72.52" cy="168.43" r="0.5" fill="#c0103f" fill-opacity="0.7" stroke="#c0103f" stroke-width="0.5"/>
<circle cx="69.70" cy="170.36" r="0.5" fill="#c0103f" fill-opacity="0.7" stroke="#c0103f" stroke-width="0.5"/>
<circle cx="71.77" cy="171.93" r="0.5" fill="#c0103f" fill-opacity="0.7" stroke="#c0103f" stroke-width="0.5"/>
<circle cx="70.91" cy="175.63" r="0.5" fill="#c0103f" fill-opacity="0.7" stroke="#c0103f" stroke-width="0.5"/>
<circle cx="69.71" cy="179.76" r="0.5" fill="#c0103f" fill-opacity="0.7" stroke="#c0103f" stroke-width="0.5"/>
<circle cx="71.92" cy="181.16" r="0.5" fill="#c0103f" fill-opacity="0.7" stroke="#c0103f" stroke-width="0.5"/>
<circle cx="70.60" cy="184.16" r="0.5" fill="#c0103f" fill-opacity="0.7" stroke="#c0103f" stroke-width="0.5"/>
<circle cx="70.48" cy="189.00" r="0.5" fill="#c0103f" fill-opacity="0.7" stroke="#c0103f" stroke-width="0.5"/>
<line x1="85.6" y1="161.1" x2="85.6" y2="171.4" stroke="#222" stroke-width="0.8"/>
<line x1="82.89999999999999" y1="161.1" x2="88.3" y2="161.1" stroke="#111" stroke-width="0.9"/>
<line x1="82.89999999999999" y1="171.4" x2="88.3" y2="171.4" stroke="#111" stroke-width="0.9"/>
<line x1="80.5" y1="166" x2="90.69999999999999" y2="166" stroke="#000" stroke-width="1.2"/>
<circle cx="85.73" cy="157.00" r="0.5" fill="#c0103f" fill-opacity="0.7" stroke="#c0103f" stroke-width="0.5"/>
<circle cx="84.77" cy="159.65" r="0.5" fill="#c0103f" fill-opacity="0.7" stroke="#c0103f" stroke-width="0.5"/>
<circle cx="86.51" cy="160.17" r="0.5" fill="#c0103f" fill-opacity="0.7" stroke="#c0103f" stroke-width="0.5"/>
<circle cx="84.36" cy="163.32" r="0.5" fill="#c0103f" fill-opacity="0.7" stroke="#c0103f" stroke-width="0.5"/>
<circle cx="86.84" cy="164.04" r="0.5" fill="#c0103f" fill-opacity="0.7" stroke="#c0103f" stroke-width="0.5"/>
<circle cx="85.37" cy="167.20" r="0.5" fill="#c0103f" fill-opacity="0.7" stroke="#c0103f" stroke-width="0.5"/>
<circle cx="84.63" cy="169.11" r="0.5" fill="#c0103f" fill-opacity="0.7" stroke="#c0103f" stroke-width="0.5"/>
<circle cx="86.89" cy="170.98" r="0.5" fill="#c0103f" fill-opacity="0.7" stroke="#c0103f" stroke-width="0.5"/>
<circle cx="84.51" cy="173.77" r="0.5" fill="#c0103f" fill-opacity="0.7" stroke="#c0103f" stroke-width="0.5"/>
<circle cx="86.46" cy="174.30" r="0.5" fill="#c0103f" fill-opacity="0.7" stroke="#c0103f" stroke-width="0.5"/>
<circle cx="84.45" cy="151.9" r="0.8" fill="#222"/>
<circle cx="86.75" cy="151.9" r="0.8" fill="#222"/>
<line x1="100.3" y1="199" x2="100.3" y2="203.6" stroke="#222" stroke-width="0.8"/>
<line x1="97.6" y1="199" x2="103.0" y2="199" stroke="#111" stroke-width="0.9"/>
<line x1="97.6" y1="203.6" x2="103.0" y2="203.6" stroke="#111" stroke-width="0.9"/>
<line x1="95.2" y1="201.4" x2="105.39999999999999" y2="201.4" stroke="#000" stroke-width="1.2"/>
<circle cx="100.42" cy="196.40" r="0.5" fill="#c0103f" fill-opacity="0.7" stroke="#c0103f" stroke-width="0.5"/>
<circle cx="97.09" cy="199.27" r="0.5" fill="#c0103f" fill-opacity="0.7" stroke="#c0103f" stroke-width="0.5"/>
<circle cx="99.58" cy="200.30" r="0.5" fill="#c0103f" fill-opacity="0.7" stroke="#c0103f" stroke-width="0.5"/>
<circle cx="101.04" cy="200.59" r="0.5" fill="#c0103f" fill-opacity="0.7" stroke="#c0103f" stroke-width="0.5"/>
<circle cx="103.04" cy="200.76" r="0.5" fill="#c0103f" fill-opacity="0.7" stroke="#c0103f" stroke-width="0.5"/>
<circle cx="99.40" cy="201.64" r="0.5" fill="#c0103f" fill-opacity="0.7" stroke="#c0103f" stroke-width="0.5"/>
<circle cx="101.59" cy="202.01" r="0.5" fill="#c0103f" fill-opacity="0.7" stroke="#c0103f" stroke-width="0.5"/>
<circle cx="100.52" cy="205.00" r="0.5" fill="#c0103f" fill-opacity="0.7" stroke="#c0103f" stroke-width="0.5"/>
<circle cx="99.15" cy="188.5" r="0.8" fill="#222"/>
<circle cx="101.45" cy="188.5" r="0.8" fill="#222"/>
<line x1="115.3" y1="184.5" x2="115.3" y2="194.1" stroke="#222" stroke-width="0.8"/>
<line x1="112.6" y1="184.5" x2="118.0" y2="184.5" stroke="#111" stroke-width="0.9"/>
<line x1="112.6" y1="194.1" x2="118.0" y2="194.1" stroke="#111" stroke-width="0.9"/>
<line x1="110.2" y1="189.4" x2="120.39999999999999" y2="189.4" stroke="#000" stroke-width="1.2"/>
<circle cx="115.06" cy="181.30" r="0.5" fill="#c0103f" fill-opacity="0.7" stroke="#c0103f" stroke-width="0.5"/>
<circle cx="114.44" cy="183.31" r="0.5" fill="#c0103f" fill-opacity="0.7" stroke="#c0103f" stroke-width="0.5"/>
<circle cx="116.14" cy="184.67" r="0.5" fill="#c0103f" fill-opacity="0.7" stroke="#c0103f" stroke-width="0.5"/>
<circle cx="113.58" cy="186.80" r="0.5" fill="#c0103f" fill-opacity="0.7" stroke="#c0103f" stroke-width="0.5"/>
<circle cx="115.41" cy="188.31" r="0.5" fill="#c0103f" fill-opacity="0.7" stroke="#c0103f" stroke-width="0.5"/>
<circle cx="117.12" cy="188.64" r="0.5" fill="#c0103f" fill-opacity="0.7" stroke="#c0103f" stroke-width="0.5"/>
<circle cx="114.58" cy="190.80" r="0.5" fill="#c0103f" fill-opacity="0.7" stroke="#c0103f" stroke-width="0.5"/>
<circle cx="116.19" cy="192.06" r="0.5" fill="#c0103f" fill-opacity="0.7" stroke="#c0103f" stroke-width="0.5"/>
<circle cx="114.57" cy="194.34" r="0.5" fill="#c0103f" fill-opacity="0.7" stroke="#c0103f" stroke-width="0.5"/>
<circle cx="116.00" cy="196.20" r="0.5" fill="#c0103f" fill-opacity="0.7" stroke="#c0103f" stroke-width="0.5"/>
<circle cx="115.30" cy="175.3" r="0.8" fill="#222"/>
<line x1="130.1" y1="181.6" x2="130.1" y2="193.2" stroke="#222" stroke-width="0.8"/>
<line x1="127.39999999999999" y1="181.6" x2="132.79999999999998" y2="181.6" stroke="#111" stroke-width="0.9"/>
<line x1="127.39999999999999" y1="193.2" x2="132.79999999999998" y2="193.2" stroke="#111" stroke-width="0.9"/>
<line x1="125.0" y1="187.4" x2="135.2" y2="187.4" stroke="#000" stroke-width="1.2"/>
<circle cx="130.12" cy="175.60" r="0.5" fill="#c0103f" fill-opacity="0.7" stroke="#c0103f" stroke-width="0.5"/>
<circle cx="129.19" cy="177.57" r="0.5" fill="#c0103f" fill-opacity="0.7" stroke="#c0103f" stroke-width="0.5"/>
<circle cx="130.92" cy="179.03" r="0.5" fill="#c0103f" fill-opacity="0.7" stroke="#c0103f" stroke-width="0.5"/>
<circle cx="129.25" cy="186.54" r="0.5" fill="#c0103f" fill-opacity="0.7" stroke="#c0103f" stroke-width="0.5"/>
<circle cx="130.96" cy="187.64" r="0.5" fill="#c0103f" fill-opacity="0.7" stroke="#c0103f" stroke-width="0.5"/>
<circle cx="130.21" cy="188.99" r="0.5" fill="#c0103f" fill-opacity="0.7" stroke="#c0103f" stroke-width="0.5"/>
<circle cx="129.19" cy="191.06" r="0.5" fill="#c0103f" fill-opacity="0.7" stroke="#c0103f" stroke-width="0.5"/>
<circle cx="130.98" cy="191.78" r="0.5" fill="#c0103f" fill-opacity="0.7" stroke="#c0103f" stroke-width="0.5"/>
<circle cx="129.05" cy="194.10" r="0.5" fill="#c0103f" fill-opacity="0.7" stroke="#c0103f" stroke-width="0.5"/>
<circle cx="131.21" cy="194.10" r="0.5" fill="#c0103f" fill-opacity="0.7" stroke="#c0103f" stroke-width="0.5"/>
<circle cx="130.10" cy="169.7" r="0.8" fill="#222"/>
<line x1="145.0" y1="155.5" x2="145.0" y2="164.3" stroke="#222" stroke-width="0.8"/>
<line x1="142.3" y1="155.5" x2="147.7" y2="155.5" stroke="#111" stroke-width="0.9"/>
<line x1="142.3" y1="164.3" x2="147.7" y2="164.3" stroke="#111" stroke-width="0.9"/>
<line x1="139.9" y1="160" x2="150.1" y2="160" stroke="#000" stroke-width="1.2"/>
<circle cx="144.21" cy="154.30" r="0.5" fill="#c0103f" fill-opacity="0.7" stroke="#c0103f" stroke-width="0.5"/>
<circle cx="145.74" cy="154.30" r="0.5" fill="#c0103f" fill-opacity="0.7" stroke="#c0103f" stroke-width="0.5"/>
<circle cx="143.92" cy="156.53" r="0.5" fill="#c0103f" fill-opacity="0.7" stroke="#c0103f" stroke-width="0.5"/>
<circle cx="145.81" cy="157.78" r="0.5" fill="#c0103f" fill-opacity="0.7" stroke="#c0103f" stroke-width="0.5"/>
<circle cx="144.89" cy="159.78" r="0.5" fill="#c0103f" fill-opacity="0.7" stroke="#c0103f" stroke-width="0.5"/>
<circle cx="144.26" cy="161.69" r="0.5" fill="#c0103f" fill-opacity="0.7" stroke="#c0103f" stroke-width="0.5"/>
<circle cx="145.82" cy="163.16" r="0.5" fill="#c0103f" fill-opacity="0.7" stroke="#c0103f" stroke-width="0.5"/>
<circle cx="143.94" cy="164.98" r="0.5" fill="#c0103f" fill-opacity="0.7" stroke="#c0103f" stroke-width="0.5"/>
<circle cx="145.81" cy="164.99" r="0.5" fill="#c0103f" fill-opacity="0.7" stroke="#c0103f" stroke-width="0.5"/>
<circle cx="144.79" cy="168.50" r="0.5" fill="#c0103f" fill-opacity="0.7" stroke="#c0103f" stroke-width="0.5"/>
<circle cx="143.85" cy="149.9" r="0.8" fill="#222"/>
<circle cx="146.15" cy="149.9" r="0.8" fill="#222"/>
<text x="30.6" y="223" font-size="5.3" text-anchor="end" textLength="13.6" lengthAdjust="spacingAndGlyphs" fill="#222">AAV8</text>
<text x="41.0" y="222.4" font-size="5.3" text-anchor="middle" fill="#222">-</text>
<text x="55.9" y="222.4" font-size="5.3" text-anchor="middle" fill="#222">-</text>
<text x="70.7" y="223" font-size="5.3" text-anchor="middle" fill="#222">Mt2</text>
<text x="70.7" y="229.3" font-size="5.0" text-anchor="middle" fill="#222">(+)</text>
<text x="85.6" y="223" font-size="5.3" text-anchor="middle" fill="#222">Mt2</text>
<text x="85.6" y="229.3" font-size="5.0" text-anchor="middle" fill="#222">(++)</text>
<text x="100.3" y="223" font-size="5.3" text-anchor="middle" fill="#222">I286</text>
<text x="100.3" y="229.3" font-size="5.0" text-anchor="middle" fill="#222">(+)</text>
<text x="115.3" y="223" font-size="5.3" text-anchor="middle" fill="#222">I286</text>
<text x="115.3" y="229.3" font-size="5.0" text-anchor="middle" fill="#222">(++)</text>
<text x="130.1" y="223" font-size="5.3" text-anchor="middle" fill="#222">S762</text>
<text x="130.1" y="229.3" font-size="5.0" text-anchor="middle" fill="#222">(+)</text>
<text x="145.0" y="223" font-size="5.3" text-anchor="middle" fill="#222">S762</text>
<text x="145.0" y="229.3" font-size="5.0" text-anchor="middle" fill="#222">(++)</text>
<line x1="36.2" y1="232.6" x2="46.8" y2="232.6" stroke="#333" stroke-width="1.3"/>
<line x1="50.8" y1="232.6" x2="151.6" y2="232.6" stroke="#333" stroke-width="1.3"/>
<text x="41.5" y="240.8" font-size="5.8" text-anchor="middle" fill="#222">WT</text>
<text x="101.75" y="240.8" font-size="5.3" text-anchor="middle" font-style="italic" textLength="24.8" lengthAdjust="spacingAndGlyphs" fill="#222">Tmprss6-/-</text>
<line x1="202.4" y1="149.6" x2="202.4" y2="212.1" stroke="#000" stroke-width="1.3"/>
<line x1="201.75" y1="211.45" x2="321.2" y2="211.45" stroke="#000" stroke-width="1.3"/>
<line x1="199.70000000000002" y1="211.45" x2="202.4" y2="211.45" stroke="#000" stroke-width="1.0"/>
<text x="196.1" y="213.25" font-size="5.4" text-anchor="end" fill="#222">0</text>
<line x1="199.70000000000002" y1="196.58999999999997" x2="202.4" y2="196.58999999999997" stroke="#000" stroke-width="1.0"/>
<text x="196.1" y="198.39" font-size="5.4" text-anchor="end" fill="#222">5</text>
<line x1="199.70000000000002" y1="181.73" x2="202.4" y2="181.73" stroke="#000" stroke-width="1.0"/>
<text x="196.1" y="183.53" font-size="5.4" text-anchor="end" fill="#222">10</text>
<line x1="199.70000000000002" y1="166.87" x2="202.4" y2="166.87" stroke="#000" stroke-width="1.0"/>
<text x="196.1" y="168.67000000000002" font-size="5.4" text-anchor="end" fill="#222">15</text>
<line x1="199.70000000000002" y1="152.01" x2="202.4" y2="152.01" stroke="#000" stroke-width="1.0"/>
<text x="196.1" y="153.81" font-size="5.4" text-anchor="end" fill="#222">20</text>
<line x1="209.6" y1="211.45" x2="209.6" y2="214.45" stroke="#000" stroke-width="1.0"/>
<line x1="224.4" y1="211.45" x2="224.4" y2="214.45" stroke="#000" stroke-width="1.0"/>
<line x1="239.2" y1="211.45" x2="239.2" y2="214.45" stroke="#000" stroke-width="1.0"/>
<line x1="254.2" y1="211.45" x2="254.2" y2="214.45" stroke="#000" stroke-width="1.0"/>
<line x1="269.0" y1="211.45" x2="269.0" y2="214.45" stroke="#000" stroke-width="1.0"/>
<line x1="283.8" y1="211.45" x2="283.8" y2="214.45" stroke="#000" stroke-width="1.0"/>
<line x1="298.6" y1="211.45" x2="298.6" y2="214.45" stroke="#000" stroke-width="1.0"/>
<line x1="313.3" y1="211.45" x2="313.3" y2="214.45" stroke="#000" stroke-width="1.0"/>
<text transform="translate(176.3,180.7) rotate(-90)" x="0" y="0" font-size="6.5" text-anchor="middle" fill="#333" textLength="43.5" lengthAdjust="spacingAndGlyphs">Hepcidin mRNA</text>
<text transform="translate(182.8,182.3) rotate(-90)" x="0" y="0" font-size="6.5" text-anchor="middle" fill="#333" textLength="55.3" lengthAdjust="spacingAndGlyphs">(relative to β-actin)</text>
<line x1="209.6" y1="184.4" x2="209.6" y2="194.4" stroke="#222" stroke-width="0.8"/>
<line x1="206.9" y1="184.4" x2="212.29999999999998" y2="184.4" stroke="#111" stroke-width="0.9"/>
<line x1="206.9" y1="194.4" x2="212.29999999999998" y2="194.4" stroke="#111" stroke-width="0.9"/>
<line x1="204.5" y1="189.3" x2="214.7" y2="189.3" stroke="#000" stroke-width="1.2"/>
<circle cx="208.34" cy="178.70" r="0.5" fill="#c0103f" fill-opacity="0.7" stroke="#c0103f" stroke-width="0.5"/>
<circle cx="210.78" cy="178.70" r="0.5" fill="#c0103f" fill-opacity="0.7" stroke="#c0103f" stroke-width="0.5"/>
<circle cx="208.67" cy="181.59" r="0.5" fill="#c0103f" fill-opacity="0.7" stroke="#c0103f" stroke-width="0.5"/>
<circle cx="210.79" cy="183.18" r="0.5" fill="#c0103f" fill-opacity="0.7" stroke="#c0103f" stroke-width="0.5"/>
<circle cx="205.53" cy="184.52" r="0.5" fill="#c0103f" fill-opacity="0.7" stroke="#c0103f" stroke-width="0.5"/>
<circle cx="207.85" cy="184.85" r="0.5" fill="#c0103f" fill-opacity="0.7" stroke="#c0103f" stroke-width="0.5"/>
<circle cx="209.75" cy="184.92" r="0.5" fill="#c0103f" fill-opacity="0.7" stroke="#c0103f" stroke-width="0.5"/>
<circle cx="211.79" cy="185.48" r="0.5" fill="#c0103f" fill-opacity="0.7" stroke="#c0103f" stroke-width="0.5"/>
<circle cx="213.32" cy="186.23" r="0.5" fill="#c0103f" fill-opacity="0.7" stroke="#c0103f" stroke-width="0.5"/>
<circle cx="207.79" cy="186.61" r="0.5" fill="#c0103f" fill-opacity="0.7" stroke="#c0103f" stroke-width="0.5"/>
<circle cx="209.87" cy="186.65" r="0.5" fill="#c0103f" fill-opacity="0.7" stroke="#c0103f" stroke-width="0.5"/>
<circle cx="211.74" cy="187.85" r="0.5" fill="#c0103f" fill-opacity="0.7" stroke="#c0103f" stroke-width="0.5"/>
<circle cx="206.57" cy="188.57" r="0.5" fill="#c0103f" fill-opacity="0.7" stroke="#c0103f" stroke-width="0.5"/>
<circle cx="208.67" cy="189.19" r="0.5" fill="#c0103f" fill-opacity="0.7" stroke="#c0103f" stroke-width="0.5"/>
<circle cx="210.46" cy="189.34" r="0.5" fill="#c0103f" fill-opacity="0.7" stroke="#c0103f" stroke-width="0.5"/>
<circle cx="212.42" cy="190.37" r="0.5" fill="#c0103f" fill-opacity="0.7" stroke="#c0103f" stroke-width="0.5"/>
<circle cx="206.84" cy="191.44" r="0.5" fill="#c0103f" fill-opacity="0.7" stroke="#c0103f" stroke-width="0.5"/>
<circle cx="208.68" cy="191.67" r="0.5" fill="#c0103f" fill-opacity="0.7" stroke="#c0103f" stroke-width="0.5"/>
<circle cx="210.83" cy="191.76" r="0.5" fill="#c0103f" fill-opacity="0.7" stroke="#c0103f" stroke-width="0.5"/>
<circle cx="212.44" cy="192.22" r="0.5" fill="#c0103f" fill-opacity="0.7" stroke="#c0103f" stroke-width="0.5"/>
<circle cx="208.55" cy="193.99" r="0.5" fill="#c0103f" fill-opacity="0.7" stroke="#c0103f" stroke-width="0.5"/>
<circle cx="210.79" cy="195.02" r="0.5" fill="#c0103f" fill-opacity="0.7" stroke="#c0103f" stroke-width="0.5"/>
<circle cx="207.38" cy="197.00" r="0.5" fill="#c0103f" fill-opacity="0.7" stroke="#c0103f" stroke-width="0.5"/>
<circle cx="209.61" cy="197.00" r="0.5" fill="#c0103f" fill-opacity="0.7" stroke="#c0103f" stroke-width="0.5"/>
<circle cx="211.57" cy="197.00" r="0.5" fill="#c0103f" fill-opacity="0.7" stroke="#c0103f" stroke-width="0.5"/>
<line x1="224.4" y1="164.9" x2="224.4" y2="180.3" stroke="#222" stroke-width="0.8"/>
<line x1="221.70000000000002" y1="164.9" x2="227.1" y2="164.9" stroke="#111" stroke-width="0.9"/>
<line x1="221.70000000000002" y1="180.3" x2="227.1" y2="180.3" stroke="#111" stroke-width="0.9"/>
<line x1="219.3" y1="172.5" x2="229.5" y2="172.5" stroke="#000" stroke-width="1.2"/>
<circle cx="222.37" cy="158.90" r="0.5" fill="#c0103f" fill-opacity="0.7" stroke="#c0103f" stroke-width="0.5"/>
<circle cx="224.67" cy="158.90" r="0.5" fill="#c0103f" fill-opacity="0.7" stroke="#c0103f" stroke-width="0.5"/>
<circle cx="226.56" cy="158.90" r="0.5" fill="#c0103f" fill-opacity="0.7" stroke="#c0103f" stroke-width="0.5"/>
<circle cx="222.11" cy="160.88" r="0.5" fill="#c0103f" fill-opacity="0.7" stroke="#c0103f" stroke-width="0.5"/>
<circle cx="224.67" cy="161.09" r="0.5" fill="#c0103f" fill-opacity="0.7" stroke="#c0103f" stroke-width="0.5"/>
<circle cx="226.59" cy="162.04" r="0.5" fill="#c0103f" fill-opacity="0.7" stroke="#c0103f" stroke-width="0.5"/>
<circle cx="224.27" cy="163.73" r="0.5" fill="#c0103f" fill-opacity="0.7" stroke="#c0103f" stroke-width="0.5"/>
<circle cx="223.68" cy="166.17" r="0.5" fill="#c0103f" fill-opacity="0.7" stroke="#c0103f" stroke-width="0.5"/>
<circle cx="225.20" cy="166.84" r="0.5" fill="#c0103f" fill-opacity="0.7" stroke="#c0103f" stroke-width="0.5"/>
<circle cx="221.66" cy="171.85" r="0.5" fill="#c0103f" fill-opacity="0.7" stroke="#c0103f" stroke-width="0.5"/>
<circle cx="223.46" cy="172.87" r="0.5" fill="#c0103f" fill-opacity="0.7" stroke="#c0103f" stroke-width="0.5"/>
<circle cx="225.11" cy="173.36" r="0.5" fill="#c0103f" fill-opacity="0.7" stroke="#c0103f" stroke-width="0.5"/>
<circle cx="227.59" cy="173.53" r="0.5" fill="#c0103f" fill-opacity="0.7" stroke="#c0103f" stroke-width="0.5"/>
<circle cx="223.29" cy="174.96" r="0.5" fill="#c0103f" fill-opacity="0.7" stroke="#c0103f" stroke-width="0.5"/>
<circle cx="225.14" cy="176.31" r="0.5" fill="#c0103f" fill-opacity="0.7" stroke="#c0103f" stroke-width="0.5"/>
<circle cx="223.20" cy="177.36" r="0.5" fill="#c0103f" fill-opacity="0.7" stroke="#c0103f" stroke-width="0.5"/>
<circle cx="225.15" cy="179.13" r="0.5" fill="#c0103f" fill-opacity="0.7" stroke="#c0103f" stroke-width="0.5"/>
<circle cx="222.37" cy="179.61" r="0.5" fill="#c0103f" fill-opacity="0.7" stroke="#c0103f" stroke-width="0.5"/>
<circle cx="224.27" cy="180.30" r="0.5" fill="#c0103f" fill-opacity="0.7" stroke="#c0103f" stroke-width="0.5"/>
<circle cx="226.65" cy="180.93" r="0.5" fill="#c0103f" fill-opacity="0.7" stroke="#c0103f" stroke-width="0.5"/>
<circle cx="223.33" cy="184.22" r="0.5" fill="#c0103f" fill-opacity="0.7" stroke="#c0103f" stroke-width="0.5"/>
<circle cx="225.16" cy="185.51" r="0.5" fill="#c0103f" fill-opacity="0.7" stroke="#c0103f" stroke-width="0.5"/>
<circle cx="222.10" cy="187.40" r="0.5" fill="#c0103f" fill-opacity="0.7" stroke="#c0103f" stroke-width="0.5"/>
<circle cx="224.52" cy="187.40" r="0.5" fill="#c0103f" fill-opacity="0.7" stroke="#c0103f" stroke-width="0.5"/>
<circle cx="226.16" cy="187.40" r="0.5" fill="#c0103f" fill-opacity="0.7" stroke="#c0103f" stroke-width="0.5"/>
<circle cx="223.25" cy="151.7" r="0.8" fill="#222"/>
<circle cx="225.55" cy="151.7" r="0.8" fill="#222"/>
<line x1="239.2" y1="192.2" x2="239.2" y2="202.2" stroke="#222" stroke-width="0.8"/>
<line x1="236.5" y1="192.2" x2="241.89999999999998" y2="192.2" stroke="#111" stroke-width="0.9"/>
<line x1="236.5" y1="202.2" x2="241.89999999999998" y2="202.2" stroke="#111" stroke-width="0.9"/>
<line x1="234.1" y1="197.1" x2="244.29999999999998" y2="197.1" stroke="#000" stroke-width="1.2"/>
<circle cx="239.03" cy="188.00" r="0.5" fill="#c0103f" fill-opacity="0.7" stroke="#c0103f" stroke-width="0.5"/>
<circle cx="236.98" cy="192.31" r="0.5" fill="#c0103f" fill-opacity="0.7" stroke="#c0103f" stroke-width="0.5"/>
<circle cx="239.49" cy="192.86" r="0.5" fill="#c0103f" fill-opacity="0.7" stroke="#c0103f" stroke-width="0.5"/>
<circle cx="241.31" cy="193.08" r="0.5" fill="#c0103f" fill-opacity="0.7" stroke="#c0103f" stroke-width="0.5"/>
<circle cx="236.23" cy="195.43" r="0.5" fill="#c0103f" fill-opacity="0.7" stroke="#c0103f" stroke-width="0.5"/>
<circle cx="238.42" cy="195.89" r="0.5" fill="#c0103f" fill-opacity="0.7" stroke="#c0103f" stroke-width="0.5"/>
<circle cx="240.47" cy="196.51" r="0.5" fill="#c0103f" fill-opacity="0.7" stroke="#c0103f" stroke-width="0.5"/>
<circle cx="242.13" cy="196.69" r="0.5" fill="#c0103f" fill-opacity="0.7" stroke="#c0103f" stroke-width="0.5"/>
<circle cx="236.42" cy="197.56" r="0.5" fill="#c0103f" fill-opacity="0.7" stroke="#c0103f" stroke-width="0.5"/>
<circle cx="238.07" cy="197.74" r="0.5" fill="#c0103f" fill-opacity="0.7" stroke="#c0103f" stroke-width="0.5"/>
<circle cx="240.32" cy="198.25" r="0.5" fill="#c0103f" fill-opacity="0.7" stroke="#c0103f" stroke-width="0.5"/>
<circle cx="242.40" cy="199.25" r="0.5" fill="#c0103f" fill-opacity="0.7" stroke="#c0103f" stroke-width="0.5"/>
<circle cx="239.13" cy="200.27" r="0.5" fill="#c0103f" fill-opacity="0.7" stroke="#c0103f" stroke-width="0.5"/>
<circle cx="238.29" cy="202.53" r="0.5" fill="#c0103f" fill-opacity="0.7" stroke="#c0103f" stroke-width="0.5"/>
<circle cx="240.34" cy="204.10" r="0.5" fill="#c0103f" fill-opacity="0.7" stroke="#c0103f" stroke-width="0.5"/>
<line x1="254.2" y1="200.3" x2="254.2" y2="206.5" stroke="#222" stroke-width="0.8"/>
<line x1="251.5" y1="200.3" x2="256.9" y2="200.3" stroke="#111" stroke-width="0.9"/>
<line x1="251.5" y1="206.5" x2="256.9" y2="206.5" stroke="#111" stroke-width="0.9"/>
<line x1="249.1" y1="203.2" x2="259.3" y2="203.2" stroke="#000" stroke-width="1.2"/>
<circle cx="254.21" cy="196.50" r="0.5" fill="#c0103f" fill-opacity="0.7" stroke="#c0103f" stroke-width="0.5"/>
<circle cx="254.14" cy="202.46" r="0.5" fill="#c0103f" fill-opacity="0.7" stroke="#c0103f" stroke-width="0.5"/>
<circle cx="252.15" cy="204.72" r="0.5" fill="#c0103f" fill-opacity="0.7" stroke="#c0103f" stroke-width="0.5"/>
<circle cx="254.37" cy="205.33" r="0.5" fill="#c0103f" fill-opacity="0.7" stroke="#c0103f" stroke-width="0.5"/>
<circle cx="256.40" cy="206.39" r="0.5" fill="#c0103f" fill-opacity="0.7" stroke="#c0103f" stroke-width="0.5"/>
<circle cx="252.05" cy="207.00" r="0.5" fill="#c0103f" fill-opacity="0.7" stroke="#c0103f" stroke-width="0.5"/>
<circle cx="254.23" cy="207.00" r="0.5" fill="#c0103f" fill-opacity="0.7" stroke="#c0103f" stroke-width="0.5"/>
<circle cx="256.31" cy="207.00" r="0.5" fill="#c0103f" fill-opacity="0.7" stroke="#c0103f" stroke-width="0.5"/>
<circle cx="253.05" cy="191.6" r="0.8" fill="#222"/>
<circle cx="255.35" cy="191.6" r="0.8" fill="#222"/>
<line x1="269.0" y1="173.4" x2="269.0" y2="183.3" stroke="#222" stroke-width="0.8"/>
<line x1="266.3" y1="173.4" x2="271.7" y2="173.4" stroke="#111" stroke-width="0.9"/>
<line x1="266.3" y1="183.3" x2="271.7" y2="183.3" stroke="#111" stroke-width="0.9"/>
<line x1="263.9" y1="178.4" x2="274.1" y2="178.4" stroke="#000" stroke-width="1.2"/>
<circle cx="268.73" cy="170.70" r="0.5" fill="#c0103f" fill-opacity="0.7" stroke="#c0103f" stroke-width="0.5"/>
<circle cx="268.87" cy="174.42" r="0.5" fill="#c0103f" fill-opacity="0.7" stroke="#c0103f" stroke-width="0.5"/>
<circle cx="269.26" cy="176.33" r="0.5" fill="#c0103f" fill-opacity="0.7" stroke="#c0103f" stroke-width="0.5"/>
<circle cx="267.75" cy="179.13" r="0.5" fill="#c0103f" fill-opacity="0.7" stroke="#c0103f" stroke-width="0.5"/>
<circle cx="269.93" cy="179.35" r="0.5" fill="#c0103f" fill-opacity="0.7" stroke="#c0103f" stroke-width="0.5"/>
<circle cx="266.81" cy="181.37" r="0.5" fill="#c0103f" fill-opacity="0.7" stroke="#c0103f" stroke-width="0.5"/>
<circle cx="268.93" cy="181.58" r="0.5" fill="#c0103f" fill-opacity="0.7" stroke="#c0103f" stroke-width="0.5"/>
<circle cx="271.04" cy="181.96" r="0.5" fill="#c0103f" fill-opacity="0.7" stroke="#c0103f" stroke-width="0.5"/>
<circle cx="268.27" cy="184.03" r="0.5" fill="#c0103f" fill-opacity="0.7" stroke="#c0103f" stroke-width="0.5"/>
<circle cx="270.27" cy="185.09" r="0.5" fill="#c0103f" fill-opacity="0.7" stroke="#c0103f" stroke-width="0.5"/>
<circle cx="267.89" cy="185.94" r="0.5" fill="#c0103f" fill-opacity="0.7" stroke="#c0103f" stroke-width="0.5"/>
<circle cx="270.16" cy="187.00" r="0.5" fill="#c0103f" fill-opacity="0.7" stroke="#c0103f" stroke-width="0.5"/>
<circle cx="269.00" cy="165.3" r="0.8" fill="#222"/>
<line x1="283.8" y1="188.7" x2="283.8" y2="200.2" stroke="#222" stroke-width="0.8"/>
<line x1="281.1" y1="188.7" x2="286.5" y2="188.7" stroke="#111" stroke-width="0.9"/>
<line x1="281.1" y1="200.2" x2="286.5" y2="200.2" stroke="#111" stroke-width="0.9"/>
<line x1="278.7" y1="194.4" x2="288.90000000000003" y2="194.4" stroke="#000" stroke-width="1.2"/>
<circle cx="283.87" cy="182.60" r="0.5" fill="#c0103f" fill-opacity="0.7" stroke="#c0103f" stroke-width="0.5"/>
<circle cx="282.61" cy="191.40" r="0.5" fill="#c0103f" fill-opacity="0.7" stroke="#c0103f" stroke-width="0.5"/>
<circle cx="284.84" cy="191.63" r="0.5" fill="#c0103f" fill-opacity="0.7" stroke="#c0103f" stroke-width="0.5"/>
<circle cx="282.92" cy="197.06" r="0.5" fill="#c0103f" fill-opacity="0.7" stroke="#c0103f" stroke-width="0.5"/>
<circle cx="284.92" cy="198.41" r="0.5" fill="#c0103f" fill-opacity="0.7" stroke="#c0103f" stroke-width="0.5"/>
<circle cx="281.99" cy="200.29" r="0.5" fill="#c0103f" fill-opacity="0.7" stroke="#c0103f" stroke-width="0.5"/>
<circle cx="284.07" cy="200.60" r="0.5" fill="#c0103f" fill-opacity="0.7" stroke="#c0103f" stroke-width="0.5"/>
<circle cx="285.91" cy="200.60" r="0.5" fill="#c0103f" fill-opacity="0.7" stroke="#c0103f" stroke-width="0.5"/>
<line x1="298.6" y1="192.9" x2="298.6" y2="203.8" stroke="#222" stroke-width="0.8"/>
<line x1="295.90000000000003" y1="192.9" x2="301.3" y2="192.9" stroke="#111" stroke-width="0.9"/>
<line x1="295.90000000000003" y1="203.8" x2="301.3" y2="203.8" stroke="#111" stroke-width="0.9"/>
<line x1="293.5" y1="198.6" x2="303.70000000000005" y2="198.6" stroke="#000" stroke-width="1.2"/>
<circle cx="298.77" cy="188.70" r="0.5" fill="#c0103f" fill-opacity="0.7" stroke="#c0103f" stroke-width="0.5"/>
<circle cx="297.32" cy="193.70" r="0.5" fill="#c0103f" fill-opacity="0.7" stroke="#c0103f" stroke-width="0.5"/>
<circle cx="299.87" cy="193.78" r="0.5" fill="#c0103f" fill-opacity="0.7" stroke="#c0103f" stroke-width="0.5"/>
<circle cx="296.33" cy="200.43" r="0.5" fill="#c0103f" fill-opacity="0.7" stroke="#c0103f" stroke-width="0.5"/>
<circle cx="298.84" cy="200.91" r="0.5" fill="#c0103f" fill-opacity="0.7" stroke="#c0103f" stroke-width="0.5"/>
<circle cx="300.34" cy="201.39" r="0.5" fill="#c0103f" fill-opacity="0.7" stroke="#c0103f" stroke-width="0.5"/>
<circle cx="296.82" cy="204.70" r="0.5" fill="#c0103f" fill-opacity="0.7" stroke="#c0103f" stroke-width="0.5"/>
<circle cx="298.65" cy="204.70" r="0.5" fill="#c0103f" fill-opacity="0.7" stroke="#c0103f" stroke-width="0.5"/>
<circle cx="300.66" cy="204.70" r="0.5" fill="#c0103f" fill-opacity="0.7" stroke="#c0103f" stroke-width="0.5"/>
<circle cx="298.60" cy="181.9" r="0.8" fill="#222"/>
<line x1="313.3" y1="195.2" x2="313.3" y2="204.4" stroke="#222" stroke-width="0.8"/>
<line x1="310.6" y1="195.2" x2="316.0" y2="195.2" stroke="#111" stroke-width="0.9"/>
<line x1="310.6" y1="204.4" x2="316.0" y2="204.4" stroke="#111" stroke-width="0.9"/>
<line x1="308.2" y1="199.7" x2="318.40000000000003" y2="199.7" stroke="#000" stroke-width="1.2"/>
<circle cx="313.23" cy="191.60" r="0.5" fill="#c0103f" fill-opacity="0.7" stroke="#c0103f" stroke-width="0.5"/>
<circle cx="312.38" cy="195.39" r="0.5" fill="#c0103f" fill-opacity="0.7" stroke="#c0103f" stroke-width="0.5"/>
<circle cx="314.12" cy="197.25" r="0.5" fill="#c0103f" fill-opacity="0.7" stroke="#c0103f" stroke-width="0.5"/>
<circle cx="311.21" cy="197.61" r="0.5" fill="#c0103f" fill-opacity="0.7" stroke="#c0103f" stroke-width="0.5"/>
<circle cx="313.12" cy="198.07" r="0.5" fill="#c0103f" fill-opacity="0.7" stroke="#c0103f" stroke-width="0.5"/>
<circle cx="315.45" cy="199.02" r="0.5" fill="#c0103f" fill-opacity="0.7" stroke="#c0103f" stroke-width="0.5"/>
<circle cx="313.45" cy="200.04" r="0.5" fill="#c0103f" fill-opacity="0.7" stroke="#c0103f" stroke-width="0.5"/>
<circle cx="313.50" cy="205.30" r="0.5" fill="#c0103f" fill-opacity="0.7" stroke="#c0103f" stroke-width="0.5"/>
<circle cx="313.30" cy="185.4" r="0.8" fill="#222"/>
<text x="197.2" y="223" font-size="5.3" text-anchor="end" textLength="13.6" lengthAdjust="spacingAndGlyphs" fill="#222">AAV8</text>
<text x="209.6" y="222.4" font-size="5.3" text-anchor="middle" fill="#222">-</text>
<text x="224.4" y="222.4" font-size="5.3" text-anchor="middle" fill="#222">-</text>
<text x="239.2" y="223" font-size="5.3" text-anchor="middle" fill="#222">Mt2</text>
<text x="239.2" y="229.3" font-size="5.0" text-anchor="middle" fill="#222">(+)</text>
<text x="254.2" y="223" font-size="5.3" text-anchor="middle" fill="#222">Mt2</text>
<text x="254.2" y="229.3" font-size="5.0" text-anchor="middle" fill="#222">(++)</text>
<text x="269.0" y="223" font-size="5.3" text-anchor="middle" fill="#222">I286</text>
<text x="269.0" y="229.3" font-size="5.0" text-anchor="middle" fill="#222">(+)</text>
<text x="283.8" y="223" font-size="5.3" text-anchor="middle" fill="#222">I286</text>
<text x="283.8" y="229.3" font-size="5.0" text-anchor="middle" fill="#222">(++)</text>
<text x="298.6" y="223" font-size="5.3" text-anchor="middle" fill="#222">S762</text>
<text x="298.6" y="229.3" font-size="5.0" text-anchor="middle" fill="#222">(+)</text>
<text x="313.3" y="223" font-size="5.3" text-anchor="middle" fill="#222">S762</text>
<text x="313.3" y="229.3" font-size="5.0" text-anchor="middle" fill="#222">(++)</text>
<line x1="205" y1="232.6" x2="214.9" y2="232.6" stroke="#333" stroke-width="1.3"/>
<line x1="219" y1="232.6" x2="321" y2="232.6" stroke="#333" stroke-width="1.3"/>
<text x="209.95" y="240.8" font-size="5.8" text-anchor="middle" fill="#222">WT</text>
<text x="269.8" y="240.8" font-size="5.3" text-anchor="middle" font-style="italic" textLength="24.8" lengthAdjust="spacingAndGlyphs" fill="#222">Tmprss6-/-</text>
<line x1="376.4" y1="149.6" x2="376.4" y2="212.1" stroke="#000" stroke-width="1.3"/>
<line x1="375.75" y1="211.45" x2="495.2" y2="211.45" stroke="#000" stroke-width="1.3"/>
<line x1="373.7" y1="211.45" x2="376.4" y2="211.45" stroke="#000" stroke-width="1.0"/>
<text x="369.9" y="213.25" font-size="5.4" text-anchor="end" fill="#222">0.00</text>
<line x1="373.7" y1="201.60999999999999" x2="376.4" y2="201.60999999999999" stroke="#000" stroke-width="1.0"/>
<text x="369.9" y="203.41" font-size="5.4" text-anchor="end" fill="#222">0.02</text>
<line x1="373.7" y1="191.76999999999998" x2="376.4" y2="191.76999999999998" stroke="#000" stroke-width="1.0"/>
<text x="369.9" y="193.57" font-size="5.4" text-anchor="end" fill="#222">0.04</text>
<line x1="373.7" y1="181.92999999999998" x2="376.4" y2="181.92999999999998" stroke="#000" stroke-width="1.0"/>
<text x="369.9" y="183.73" font-size="5.4" text-anchor="end" fill="#222">0.06</text>
<line x1="373.7" y1="172.08999999999997" x2="376.4" y2="172.08999999999997" stroke="#000" stroke-width="1.0"/>
<text x="369.9" y="173.89" font-size="5.4" text-anchor="end" fill="#222">0.08</text>
<line x1="373.7" y1="162.25" x2="376.4" y2="162.25" stroke="#000" stroke-width="1.0"/>
<text x="369.9" y="164.05" font-size="5.4" text-anchor="end" fill="#222">0.10</text>
<line x1="373.7" y1="152.41" x2="376.4" y2="152.41" stroke="#000" stroke-width="1.0"/>
<text x="369.9" y="154.21" font-size="5.4" text-anchor="end" fill="#222">0.12</text>
<line x1="383.6" y1="211.45" x2="383.6" y2="214.45" stroke="#000" stroke-width="1.0"/>
<line x1="398.4" y1="211.45" x2="398.4" y2="214.45" stroke="#000" stroke-width="1.0"/>
<line x1="413.6" y1="211.45" x2="413.6" y2="214.45" stroke="#000" stroke-width="1.0"/>
<line x1="428.6" y1="211.45" x2="428.6" y2="214.45" stroke="#000" stroke-width="1.0"/>
<line x1="443.0" y1="211.45" x2="443.0" y2="214.45" stroke="#000" stroke-width="1.0"/>
<line x1="457.9" y1="211.45" x2="457.9" y2="214.45" stroke="#000" stroke-width="1.0"/>
<line x1="472.7" y1="211.45" x2="472.7" y2="214.45" stroke="#000" stroke-width="1.0"/>
<line x1="487.7" y1="211.45" x2="487.7" y2="214.45" stroke="#000" stroke-width="1.0"/>
<text transform="translate(343.9,180.8) rotate(-90)" x="0" y="0" font-size="6.5" text-anchor="middle" fill="#333" textLength="29.0" lengthAdjust="spacingAndGlyphs">Id1 mRNA</text>
<text transform="translate(351.3,182.2) rotate(-90)" x="0" y="0" font-size="6.5" text-anchor="middle" fill="#333" textLength="53.8" lengthAdjust="spacingAndGlyphs">(relative to β-actin)</text>
<line x1="383.6" y1="186.8" x2="383.6" y2="199.6" stroke="#222" stroke-width="0.8"/>
<line x1="380.90000000000003" y1="186.8" x2="386.3" y2="186.8" stroke="#111" stroke-width="0.9"/>
<line x1="380.90000000000003" y1="199.6" x2="386.3" y2="199.6" stroke="#111" stroke-width="0.9"/>
<line x1="378.5" y1="193.2" x2="388.70000000000005" y2="193.2" stroke="#000" stroke-width="1.2"/>
<circle cx="382.36" cy="180.00" r="0.5" fill="#c0103f" fill-opacity="0.7" stroke="#c0103f" stroke-width="0.5"/>
<circle cx="384.50" cy="180.00" r="0.5" fill="#c0103f" fill-opacity="0.7" stroke="#c0103f" stroke-width="0.5"/>
<circle cx="382.85" cy="183.78" r="0.5" fill="#c0103f" fill-opacity="0.7" stroke="#c0103f" stroke-width="0.5"/>
<circle cx="384.66" cy="184.66" r="0.5" fill="#c0103f" fill-opacity="0.7" stroke="#c0103f" stroke-width="0.5"/>
<circle cx="382.82" cy="185.98" r="0.5" fill="#c0103f" fill-opacity="0.7" stroke="#c0103f" stroke-width="0.5"/>
<circle cx="384.76" cy="186.61" r="0.5" fill="#c0103f" fill-opacity="0.7" stroke="#c0103f" stroke-width="0.5"/>
<circle cx="382.82" cy="188.56" r="0.5" fill="#c0103f" fill-opacity="0.7" stroke="#c0103f" stroke-width="0.5"/>
<circle cx="384.90" cy="188.97" r="0.5" fill="#c0103f" fill-opacity="0.7" stroke="#c0103f" stroke-width="0.5"/>
<circle cx="379.68" cy="191.56" r="0.5" fill="#c0103f" fill-opacity="0.7" stroke="#c0103f" stroke-width="0.5"/>
<circle cx="381.34" cy="191.66" r="0.5" fill="#c0103f" fill-opacity="0.7" stroke="#c0103f" stroke-width="0.5"/>
<circle cx="383.36" cy="192.29" r="0.5" fill="#c0103f" fill-opacity="0.7" stroke="#c0103f" stroke-width="0.5"/>
<circle cx="385.84" cy="192.53" r="0.5" fill="#c0103f" fill-opacity="0.7" stroke="#c0103f" stroke-width="0.5"/>
<circle cx="387.63" cy="193.30" r="0.5" fill="#c0103f" fill-opacity="0.7" stroke="#c0103f" stroke-width="0.5"/>
<circle cx="380.90" cy="194.44" r="0.5" fill="#c0103f" fill-opacity="0.7" stroke="#c0103f" stroke-width="0.5"/>
<circle cx="382.67" cy="194.47" r="0.5" fill="#c0103f" fill-opacity="0.7" stroke="#c0103f" stroke-width="0.5"/>
<circle cx="384.90" cy="195.65" r="0.5" fill="#c0103f" fill-opacity="0.7" stroke="#c0103f" stroke-width="0.5"/>
<circle cx="386.54" cy="196.21" r="0.5" fill="#c0103f" fill-opacity="0.7" stroke="#c0103f" stroke-width="0.5"/>
<circle cx="379.84" cy="197.09" r="0.5" fill="#c0103f" fill-opacity="0.7" stroke="#c0103f" stroke-width="0.5"/>
<circle cx="381.82" cy="197.28" r="0.5" fill="#c0103f" fill-opacity="0.7" stroke="#c0103f" stroke-width="0.5"/>
<circle cx="383.84" cy="197.29" r="0.5" fill="#c0103f" fill-opacity="0.7" stroke="#c0103f" stroke-width="0.5"/>
<circle cx="385.55" cy="197.53" r="0.5" fill="#c0103f" fill-opacity="0.7" stroke="#c0103f" stroke-width="0.5"/>
<circle cx="387.47" cy="197.61" r="0.5" fill="#c0103f" fill-opacity="0.7" stroke="#c0103f" stroke-width="0.5"/>
<circle cx="381.72" cy="201.80" r="0.5" fill="#c0103f" fill-opacity="0.7" stroke="#c0103f" stroke-width="0.5"/>
<circle cx="383.70" cy="201.80" r="0.5" fill="#c0103f" fill-opacity="0.7" stroke="#c0103f" stroke-width="0.5"/>
<circle cx="385.47" cy="201.80" r="0.5" fill="#c0103f" fill-opacity="0.7" stroke="#c0103f" stroke-width="0.5"/>
<line x1="398.4" y1="167.9" x2="398.4" y2="183.8" stroke="#222" stroke-width="0.8"/>
<line x1="395.7" y1="167.9" x2="401.09999999999997" y2="167.9" stroke="#111" stroke-width="0.9"/>
<line x1="395.7" y1="183.8" x2="401.09999999999997" y2="183.8" stroke="#111" stroke-width="0.9"/>
<line x1="393.29999999999995" y1="175.9" x2="403.5" y2="175.9" stroke="#000" stroke-width="1.2"/>
<circle cx="397.41" cy="162.40" r="0.5" fill="#c0103f" fill-opacity="0.7" stroke="#c0103f" stroke-width="0.5"/>
<circle cx="399.24" cy="162.40" r="0.5" fill="#c0103f" fill-opacity="0.7" stroke="#c0103f" stroke-width="0.5"/>
<circle cx="395.41" cy="165.29" r="0.5" fill="#c0103f" fill-opacity="0.7" stroke="#c0103f" stroke-width="0.5"/>
<circle cx="397.20" cy="165.88" r="0.5" fill="#c0103f" fill-opacity="0.7" stroke="#c0103f" stroke-width="0.5"/>
<circle cx="399.38" cy="166.32" r="0.5" fill="#c0103f" fill-opacity="0.7" stroke="#c0103f" stroke-width="0.5"/>
<circle cx="401.33" cy="166.34" r="0.5" fill="#c0103f" fill-opacity="0.7" stroke="#c0103f" stroke-width="0.5"/>
<circle cx="397.26" cy="168.86" r="0.5" fill="#c0103f" fill-opacity="0.7" stroke="#c0103f" stroke-width="0.5"/>
<circle cx="399.63" cy="169.50" r="0.5" fill="#c0103f" fill-opacity="0.7" stroke="#c0103f" stroke-width="0.5"/>
<circle cx="394.20" cy="173.07" r="0.5" fill="#c0103f" fill-opacity="0.7" stroke="#c0103f" stroke-width="0.5"/>
<circle cx="395.46" cy="173.57" r="0.5" fill="#c0103f" fill-opacity="0.7" stroke="#c0103f" stroke-width="0.5"/>
<circle cx="397.57" cy="173.95" r="0.5" fill="#c0103f" fill-opacity="0.7" stroke="#c0103f" stroke-width="0.5"/>
<circle cx="399.47" cy="174.67" r="0.5" fill="#c0103f" fill-opacity="0.7" stroke="#c0103f" stroke-width="0.5"/>
<circle cx="401.55" cy="174.72" r="0.5" fill="#c0103f" fill-opacity="0.7" stroke="#c0103f" stroke-width="0.5"/>
<circle cx="402.60" cy="174.89" r="0.5" fill="#c0103f" fill-opacity="0.7" stroke="#c0103f" stroke-width="0.5"/>
<circle cx="396.26" cy="175.73" r="0.5" fill="#c0103f" fill-opacity="0.7" stroke="#c0103f" stroke-width="0.5"/>
<circle cx="398.29" cy="176.00" r="0.5" fill="#c0103f" fill-opacity="0.7" stroke="#c0103f" stroke-width="0.5"/>
<circle cx="400.40" cy="176.17" r="0.5" fill="#c0103f" fill-opacity="0.7" stroke="#c0103f" stroke-width="0.5"/>
<circle cx="397.41" cy="177.71" r="0.5" fill="#c0103f" fill-opacity="0.7" stroke="#c0103f" stroke-width="0.5"/>
<circle cx="399.65" cy="178.44" r="0.5" fill="#c0103f" fill-opacity="0.7" stroke="#c0103f" stroke-width="0.5"/>
<circle cx="396.58" cy="180.01" r="0.5" fill="#c0103f" fill-opacity="0.7" stroke="#c0103f" stroke-width="0.5"/>
<circle cx="398.30" cy="180.73" r="0.5" fill="#c0103f" fill-opacity="0.7" stroke="#c0103f" stroke-width="0.5"/>
<circle cx="400.32" cy="181.21" r="0.5" fill="#c0103f" fill-opacity="0.7" stroke="#c0103f" stroke-width="0.5"/>
<circle cx="398.52" cy="182.02" r="0.5" fill="#c0103f" fill-opacity="0.7" stroke="#c0103f" stroke-width="0.5"/>
<circle cx="397.54" cy="186.40" r="0.5" fill="#c0103f" fill-opacity="0.7" stroke="#c0103f" stroke-width="0.5"/>
<circle cx="399.13" cy="186.40" r="0.5" fill="#c0103f" fill-opacity="0.7" stroke="#c0103f" stroke-width="0.5"/>
<circle cx="397.25" cy="151" r="0.8" fill="#222"/>
<circle cx="399.55" cy="151" r="0.8" fill="#222"/>
<line x1="413.6" y1="189.1" x2="413.6" y2="205.2" stroke="#222" stroke-width="0.8"/>
<line x1="410.90000000000003" y1="189.1" x2="416.3" y2="189.1" stroke="#111" stroke-width="0.9"/>
<line x1="410.90000000000003" y1="205.2" x2="416.3" y2="205.2" stroke="#111" stroke-width="0.9"/>
<line x1="408.5" y1="197.1" x2="418.70000000000005" y2="197.1" stroke="#000" stroke-width="1.2"/>
<circle cx="413.76" cy="184.90" r="0.5" fill="#c0103f" fill-opacity="0.7" stroke="#c0103f" stroke-width="0.5"/>
<circle cx="411.71" cy="187.97" r="0.5" fill="#c0103f" fill-opacity="0.7" stroke="#c0103f" stroke-width="0.5"/>
<circle cx="413.59" cy="188.78" r="0.5" fill="#c0103f" fill-opacity="0.7" stroke="#c0103f" stroke-width="0.5"/>
<circle cx="415.79" cy="189.58" r="0.5" fill="#c0103f" fill-opacity="0.7" stroke="#c0103f" stroke-width="0.5"/>
<circle cx="412.76" cy="191.24" r="0.5" fill="#c0103f" fill-opacity="0.7" stroke="#c0103f" stroke-width="0.5"/>
<circle cx="414.59" cy="192.33" r="0.5" fill="#c0103f" fill-opacity="0.7" stroke="#c0103f" stroke-width="0.5"/>
<circle cx="411.39" cy="193.27" r="0.5" fill="#c0103f" fill-opacity="0.7" stroke="#c0103f" stroke-width="0.5"/>
<circle cx="413.48" cy="193.99" r="0.5" fill="#c0103f" fill-opacity="0.7" stroke="#c0103f" stroke-width="0.5"/>
<circle cx="415.46" cy="194.66" r="0.5" fill="#c0103f" fill-opacity="0.7" stroke="#c0103f" stroke-width="0.5"/>
<circle cx="413.52" cy="195.22" r="0.5" fill="#c0103f" fill-opacity="0.7" stroke="#c0103f" stroke-width="0.5"/>
<circle cx="411.85" cy="198.05" r="0.5" fill="#c0103f" fill-opacity="0.7" stroke="#c0103f" stroke-width="0.5"/>
<circle cx="413.37" cy="198.29" r="0.5" fill="#c0103f" fill-opacity="0.7" stroke="#c0103f" stroke-width="0.5"/>
<circle cx="415.75" cy="199.06" r="0.5" fill="#c0103f" fill-opacity="0.7" stroke="#c0103f" stroke-width="0.5"/>
<circle cx="413.64" cy="202.19" r="0.5" fill="#c0103f" fill-opacity="0.7" stroke="#c0103f" stroke-width="0.5"/>
<circle cx="413.47" cy="206.50" r="0.5" fill="#c0103f" fill-opacity="0.7" stroke="#c0103f" stroke-width="0.5"/>
<line x1="428.6" y1="194.7" x2="428.6" y2="201.3" stroke="#222" stroke-width="0.8"/>
<line x1="425.90000000000003" y1="194.7" x2="431.3" y2="194.7" stroke="#111" stroke-width="0.9"/>
<line x1="425.90000000000003" y1="201.3" x2="431.3" y2="201.3" stroke="#111" stroke-width="0.9"/>
<line x1="423.5" y1="198" x2="433.70000000000005" y2="198" stroke="#000" stroke-width="1.2"/>
<circle cx="427.89" cy="194.10" r="0.5" fill="#c0103f" fill-opacity="0.7" stroke="#c0103f" stroke-width="0.5"/>
<circle cx="429.74" cy="194.10" r="0.5" fill="#c0103f" fill-opacity="0.7" stroke="#c0103f" stroke-width="0.5"/>
<circle cx="427.59" cy="198.01" r="0.5" fill="#c0103f" fill-opacity="0.7" stroke="#c0103f" stroke-width="0.5"/>
<circle cx="429.89" cy="199.41" r="0.5" fill="#c0103f" fill-opacity="0.7" stroke="#c0103f" stroke-width="0.5"/>
<circle cx="428.83" cy="200.82" r="0.5" fill="#c0103f" fill-opacity="0.7" stroke="#c0103f" stroke-width="0.5"/>
<circle cx="428.81" cy="205.20" r="0.5" fill="#c0103f" fill-opacity="0.7" stroke="#c0103f" stroke-width="0.5"/>
<line x1="443.0" y1="171.7" x2="443.0" y2="182.2" stroke="#222" stroke-width="0.8"/>
<line x1="440.3" y1="171.7" x2="445.7" y2="171.7" stroke="#111" stroke-width="0.9"/>
<line x1="440.3" y1="182.2" x2="445.7" y2="182.2" stroke="#111" stroke-width="0.9"/>
<line x1="437.9" y1="177.5" x2="448.1" y2="177.5" stroke="#000" stroke-width="1.2"/>
<circle cx="442.99" cy="167.90" r="0.5" fill="#c0103f" fill-opacity="0.7" stroke="#c0103f" stroke-width="0.5"/>
<circle cx="442.02" cy="172.45" r="0.5" fill="#c0103f" fill-opacity="0.7" stroke="#c0103f" stroke-width="0.5"/>
<circle cx="443.81" cy="173.77" r="0.5" fill="#c0103f" fill-opacity="0.7" stroke="#c0103f" stroke-width="0.5"/>
<circle cx="442.05" cy="174.90" r="0.5" fill="#c0103f" fill-opacity="0.7" stroke="#c0103f" stroke-width="0.5"/>
<circle cx="444.15" cy="175.66" r="0.5" fill="#c0103f" fill-opacity="0.7" stroke="#c0103f" stroke-width="0.5"/>
<circle cx="441.81" cy="177.55" r="0.5" fill="#c0103f" fill-opacity="0.7" stroke="#c0103f" stroke-width="0.5"/>
<circle cx="443.78" cy="178.91" r="0.5" fill="#c0103f" fill-opacity="0.7" stroke="#c0103f" stroke-width="0.5"/>
<circle cx="442.00" cy="179.74" r="0.5" fill="#c0103f" fill-opacity="0.7" stroke="#c0103f" stroke-width="0.5"/>
<circle cx="443.78" cy="180.19" r="0.5" fill="#c0103f" fill-opacity="0.7" stroke="#c0103f" stroke-width="0.5"/>
<circle cx="441.95" cy="181.90" r="0.5" fill="#c0103f" fill-opacity="0.7" stroke="#c0103f" stroke-width="0.5"/>
<circle cx="443.86" cy="183.05" r="0.5" fill="#c0103f" fill-opacity="0.7" stroke="#c0103f" stroke-width="0.5"/>
<circle cx="442.73" cy="186.10" r="0.5" fill="#c0103f" fill-opacity="0.7" stroke="#c0103f" stroke-width="0.5"/>
<circle cx="443.00" cy="161.2" r="0.8" fill="#222"/>
<line x1="457.9" y1="190.5" x2="457.9" y2="204.2" stroke="#222" stroke-width="0.8"/>
<line x1="455.2" y1="190.5" x2="460.59999999999997" y2="190.5" stroke="#111" stroke-width="0.9"/>
<line x1="455.2" y1="204.2" x2="460.59999999999997" y2="204.2" stroke="#111" stroke-width="0.9"/>
<line x1="452.79999999999995" y1="197.4" x2="463.0" y2="197.4" stroke="#000" stroke-width="1.2"/>
<circle cx="457.00" cy="188.70" r="0.5" fill="#c0103f" fill-opacity="0.7" stroke="#c0103f" stroke-width="0.5"/>
<circle cx="458.66" cy="188.70" r="0.5" fill="#c0103f" fill-opacity="0.7" stroke="#c0103f" stroke-width="0.5"/>
<circle cx="457.84" cy="191.60" r="0.5" fill="#c0103f" fill-opacity="0.7" stroke="#c0103f" stroke-width="0.5"/>
<circle cx="457.96" cy="195.74" r="0.5" fill="#c0103f" fill-opacity="0.7" stroke="#c0103f" stroke-width="0.5"/>
<circle cx="456.74" cy="200.93" r="0.5" fill="#c0103f" fill-opacity="0.7" stroke="#c0103f" stroke-width="0.5"/>
<circle cx="458.72" cy="201.12" r="0.5" fill="#c0103f" fill-opacity="0.7" stroke="#c0103f" stroke-width="0.5"/>
<circle cx="456.80" cy="206.70" r="0.5" fill="#c0103f" fill-opacity="0.7" stroke="#c0103f" stroke-width="0.5"/>
<circle cx="458.61" cy="206.70" r="0.5" fill="#c0103f" fill-opacity="0.7" stroke="#c0103f" stroke-width="0.5"/>
<line x1="472.7" y1="185.8" x2="472.7" y2="199" stroke="#222" stroke-width="0.8"/>
<line x1="470.0" y1="185.8" x2="475.4" y2="185.8" stroke="#111" stroke-width="0.9"/>
<line x1="470.0" y1="199" x2="475.4" y2="199" stroke="#111" stroke-width="0.9"/>
<line x1="467.59999999999997" y1="192.6" x2="477.8" y2="192.6" stroke="#000" stroke-width="1.2"/>
<circle cx="472.59" cy="183.60" r="0.5" fill="#c0103f" fill-opacity="0.7" stroke="#c0103f" stroke-width="0.5"/>
<circle cx="471.47" cy="188.03" r="0.5" fill="#c0103f" fill-opacity="0.7" stroke="#c0103f" stroke-width="0.5"/>
<circle cx="473.99" cy="189.24" r="0.5" fill="#c0103f" fill-opacity="0.7" stroke="#c0103f" stroke-width="0.5"/>
<circle cx="469.77" cy="193.51" r="0.5" fill="#c0103f" fill-opacity="0.7" stroke="#c0103f" stroke-width="0.5"/>
<circle cx="471.65" cy="193.66" r="0.5" fill="#c0103f" fill-opacity="0.7" stroke="#c0103f" stroke-width="0.5"/>
<circle cx="473.50" cy="195.07" r="0.5" fill="#c0103f" fill-opacity="0.7" stroke="#c0103f" stroke-width="0.5"/>
<circle cx="475.97" cy="195.19" r="0.5" fill="#c0103f" fill-opacity="0.7" stroke="#c0103f" stroke-width="0.5"/>
<circle cx="472.81" cy="199.65" r="0.5" fill="#c0103f" fill-opacity="0.7" stroke="#c0103f" stroke-width="0.5"/>
<circle cx="472.95" cy="201.60" r="0.5" fill="#c0103f" fill-opacity="0.7" stroke="#c0103f" stroke-width="0.5"/>
<line x1="487.7" y1="196.5" x2="487.7" y2="204.4" stroke="#222" stroke-width="0.8"/>
<line x1="485.0" y1="196.5" x2="490.4" y2="196.5" stroke="#111" stroke-width="0.9"/>
<line x1="485.0" y1="204.4" x2="490.4" y2="204.4" stroke="#111" stroke-width="0.9"/>
<line x1="482.59999999999997" y1="200.3" x2="492.8" y2="200.3" stroke="#000" stroke-width="1.2"/>
<circle cx="487.81" cy="192.60" r="0.5" fill="#c0103f" fill-opacity="0.7" stroke="#c0103f" stroke-width="0.5"/>
<circle cx="486.70" cy="196.40" r="0.5" fill="#c0103f" fill-opacity="0.7" stroke="#c0103f" stroke-width="0.5"/>
<circle cx="488.44" cy="196.49" r="0.5" fill="#c0103f" fill-opacity="0.7" stroke="#c0103f" stroke-width="0.5"/>
<circle cx="486.75" cy="198.95" r="0.5" fill="#c0103f" fill-opacity="0.7" stroke="#c0103f" stroke-width="0.5"/>
<circle cx="488.87" cy="199.42" r="0.5" fill="#c0103f" fill-opacity="0.7" stroke="#c0103f" stroke-width="0.5"/>
<circle cx="487.95" cy="202.12" r="0.5" fill="#c0103f" fill-opacity="0.7" stroke="#c0103f" stroke-width="0.5"/>
<circle cx="486.95" cy="204.56" r="0.5" fill="#c0103f" fill-opacity="0.7" stroke="#c0103f" stroke-width="0.5"/>
<circle cx="488.71" cy="205.00" r="0.5" fill="#c0103f" fill-opacity="0.7" stroke="#c0103f" stroke-width="0.5"/>
<text x="372.2" y="223" font-size="5.3" text-anchor="end" textLength="13.6" lengthAdjust="spacingAndGlyphs" fill="#222">AAV8</text>
<text x="383.6" y="222.4" font-size="5.3" text-anchor="middle" fill="#222">-</text>
<text x="398.4" y="222.4" font-size="5.3" text-anchor="middle" fill="#222">-</text>
<text x="413.6" y="223" font-size="5.3" text-anchor="middle" fill="#222">Mt2</text>
<text x="413.6" y="229.3" font-size="5.0" text-anchor="middle" fill="#222">(+)</text>
<text x="428.6" y="223" font-size="5.3" text-anchor="middle" fill="#222">Mt2</text>
<text x="428.6" y="229.3" font-size="5.0" text-anchor="middle" fill="#222">(++)</text>
<text x="443.0" y="223" font-size="5.3" text-anchor="middle" fill="#222">I286</text>
<text x="443.0" y="229.3" font-size="5.0" text-anchor="middle" fill="#222">(+)</text>
<text x="457.9" y="223" font-size="5.3" text-anchor="middle" fill="#222">I286</text>
<text x="457.9" y="229.3" font-size="5.0" text-anchor="middle" fill="#222">(++)</text>
<text x="472.7" y="223" font-size="5.3" text-anchor="middle" fill="#222">S762</text>
<text x="472.7" y="229.3" font-size="5.0" text-anchor="middle" fill="#222">(+)</text>
<text x="487.7" y="223" font-size="5.3" text-anchor="middle" fill="#222">S762</text>
<text x="487.7" y="229.3" font-size="5.0" text-anchor="middle" fill="#222">(++)</text>
<line x1="377.8" y1="232.6" x2="389" y2="232.6" stroke="#333" stroke-width="1.3"/>
<line x1="393.3" y1="232.6" x2="493.7" y2="232.6" stroke="#333" stroke-width="1.3"/>
<text x="383.4" y="240.8" font-size="5.8" text-anchor="middle" fill="#222">WT</text>
<text x="444.3" y="240.8" font-size="5.3" text-anchor="middle" font-style="italic" textLength="24.8" lengthAdjust="spacingAndGlyphs" fill="#222">Tmprss6-/-</text>
<text x="371.5" y="34" font-size="5.3" text-anchor="middle" fill="#222">WT</text>
<text x="439.7" y="34" font-size="5.0" text-anchor="middle" font-style="italic" textLength="25.5" lengthAdjust="spacingAndGlyphs" fill="#222">Tmprss6-/-</text>
<line x1="365.7" y1="38.35" x2="376.9" y2="38.35" stroke="#1a1a1a" stroke-width="1.3"/>
<line x1="380.9" y1="38.35" x2="497" y2="38.35" stroke="#1a1a1a" stroke-width="1.3"/>
<text x="362.5" y="47" font-size="5.3" text-anchor="end" textLength="13.5" lengthAdjust="spacingAndGlyphs" fill="#222">AAV8</text>
<text x="371.25" y="46.4" font-size="5.3" text-anchor="middle" fill="#222">-</text>
<line x1="364.95" y1="56.35" x2="377.55" y2="56.35" stroke="#1a1a1a" stroke-width="1.3"/>
<text x="387.5" y="46.4" font-size="5.3" text-anchor="middle" fill="#222">-</text>
<line x1="381.2" y1="56.35" x2="393.8" y2="56.35" stroke="#1a1a1a" stroke-width="1.3"/>
<text x="403.5" y="47" font-size="5.3" text-anchor="middle" fill="#222">Mt2</text>
<text x="403.5" y="53.3" font-size="5.0" text-anchor="middle" fill="#222">(+)</text>
<line x1="397.2" y1="56.35" x2="409.8" y2="56.35" stroke="#1a1a1a" stroke-width="1.3"/>
<text x="420" y="47" font-size="5.3" text-anchor="middle" fill="#222">Mt2</text>
<text x="420" y="53.3" font-size="5.0" text-anchor="middle" fill="#222">(++)</text>
<line x1="413.7" y1="56.35" x2="426.3" y2="56.35" stroke="#1a1a1a" stroke-width="1.3"/>
<text x="436.75" y="47" font-size="5.3" text-anchor="middle" fill="#222">I286</text>
<text x="436.75" y="53.3" font-size="5.0" text-anchor="middle" fill="#222">(+)</text>
<line x1="430.45" y1="56.35" x2="443.05" y2="56.35" stroke="#1a1a1a" stroke-width="1.3"/>
<text x="454" y="47" font-size="5.3" text-anchor="middle" fill="#222">I286</text>
<text x="454" y="53.3" font-size="5.0" text-anchor="middle" fill="#222">(++)</text>
<line x1="447.7" y1="56.35" x2="460.3" y2="56.35" stroke="#1a1a1a" stroke-width="1.3"/>
<text x="471.75" y="47" font-size="5.3" text-anchor="middle" fill="#222">S762</text>
<text x="471.75" y="53.3" font-size="5.0" text-anchor="middle" fill="#222">(+)</text>
<line x1="465.45" y1="56.35" x2="478.05" y2="56.35" stroke="#1a1a1a" stroke-width="1.3"/>
<text x="488.75" y="47" font-size="5.3" text-anchor="middle" fill="#222">S762</text>
<text x="488.75" y="53.3" font-size="5.0" text-anchor="middle" fill="#222">(++)</text>
<line x1="482.45" y1="56.35" x2="495.05" y2="56.35" stroke="#1a1a1a" stroke-width="1.3"/>
<rect x="362.5" y="59.5" width="137" height="18" fill="#fff" stroke="#000" stroke-width="1"/>
<rect x="362.5" y="79.5" width="137" height="21" fill="#fff" stroke="#000" stroke-width="1"/>
<text x="341.3" y="66.8" font-size="5.2" text-anchor="middle" textLength="7.2" lengthAdjust="spacingAndGlyphs" fill="#222">Mt2</text>
<text x="342.9" y="72.9" font-size="5.2" text-anchor="middle" textLength="27.8" lengthAdjust="spacingAndGlyphs" fill="#222">(Anti-FLAG)</text>
<text x="343" y="86.4" font-size="5.2" text-anchor="middle" textLength="12" lengthAdjust="spacingAndGlyphs" fill="#222">Actin</text>
<text x="343.1" y="92.6" font-size="5.2" text-anchor="middle" textLength="27.3" lengthAdjust="spacingAndGlyphs" fill="#222">(Anti-Actin)</text>
<line x1="360" y1="69.2" x2="362.8" y2="69.2" stroke="#111" stroke-width="0.9"/>
<line x1="360" y1="88.6" x2="362.8" y2="88.6" stroke="#111" stroke-width="0.9"/>
<line x1="499.3" y1="66.0" x2="502" y2="66.0" stroke="#111" stroke-width="0.9"/>
<text x="504.5" y="67.8" font-size="5.0" fill="#222">130</text>
<line x1="499.3" y1="74.0" x2="502" y2="74.0" stroke="#111" stroke-width="0.9"/>
<text x="504.5" y="75.8" font-size="5.0" fill="#222">95</text>
<line x1="499.3" y1="85.4" x2="502" y2="85.4" stroke="#111" stroke-width="0.9"/>
<text x="504.5" y="87.2" font-size="5.0" fill="#222">43</text>
<line x1="499.3" y1="99.6" x2="502" y2="99.6" stroke="#111" stroke-width="0.9"/>
<text x="504.5" y="101.39999999999999" font-size="5.0" fill="#222">34</text>
<text x="366.9" y="108.5" font-size="5.0" text-anchor="middle" fill="#222">1</text>
<text x="375.46" y="108.5" font-size="5.0" text-anchor="middle" fill="#222">2</text>
<text x="384.02" y="108.5" font-size="5.0" text-anchor="middle" fill="#222">3</text>
<text x="392.58" y="108.5" font-size="5.0" text-anchor="middle" fill="#222">4</text>
<text x="401.14" y="108.5" font-size="5.0" text-anchor="middle" fill="#222">5</text>
<text x="409.7" y="108.5" font-size="5.0" text-anchor="middle" fill="#222">6</text>
<text x="418.26" y="108.5" font-size="5.0" text-anchor="middle" fill="#222">7</text>
<text x="426.82" y="108.5" font-size="5.0" text-anchor="middle" fill="#222">8</text>
<text x="435.38" y="108.5" font-size="5.0" text-anchor="middle" fill="#222">9</text>
<text x="443.94" y="108.5" font-size="5.0" text-anchor="middle" fill="#222">10</text>
<text x="452.5" y="108.5" font-size="5.0" text-anchor="middle" fill="#222">11</text>
<text x="461.06" y="108.5" font-size="5.0" text-anchor="middle" fill="#222">12</text>
<text x="469.62" y="108.5" font-size="5.0" text-anchor="middle" fill="#222">13</text>
<text x="478.17999999999995" y="108.5" font-size="5.0" text-anchor="middle" fill="#222">14</text>
<text x="486.74" y="108.5" font-size="5.0" text-anchor="middle" fill="#222">15</text>
<text x="495.29999999999995" y="108.5" font-size="5.0" text-anchor="middle" fill="#222">16</text>
<defs><filter id="bl" x="-20%" y="-100%" width="140%" height="300%"><feGaussianBlur stdDeviation="0.75"/></filter></defs>
<g filter="url(#bl)">
<rect x="397.84" y="68.45" width="6.6" height="1.3" rx="0.6" fill="#000" opacity="0.60"/>
<rect x="406.40" y="68.40" width="6.6" height="1.4" rx="0.6" fill="#000" opacity="0.65"/>
<rect x="413.66" y="67.30" width="9.2" height="3.6" rx="1.4" fill="#000" opacity="1.00"/>
<rect x="422.22" y="67.60" width="9.2" height="3.0" rx="1.4" fill="#000" opacity="1.00"/>
<rect x="432.08" y="68.45" width="6.6" height="1.3" rx="0.6" fill="#000" opacity="0.50"/>
<rect x="440.64" y="68.30" width="6.6" height="1.6" rx="0.6" fill="#000" opacity="0.75"/>
<rect x="447.90" y="67.60" width="9.2" height="3.0" rx="1.4" fill="#000" opacity="1.00"/>
<rect x="456.46" y="67.50" width="9.2" height="3.2" rx="1.4" fill="#000" opacity="1.00"/>
<rect x="466.32" y="68.25" width="6.6" height="1.7" rx="0.6" fill="#000" opacity="0.75"/>
<rect x="474.88" y="68.45" width="6.6" height="1.3" rx="0.6" fill="#000" opacity="0.45"/>
<rect x="482.14" y="67.50" width="9.2" height="3.2" rx="1.4" fill="#000" opacity="1.00"/>
<rect x="490.70" y="67.50" width="9.2" height="3.2" rx="1.4" fill="#000" opacity="1.00"/>
<ellipse cx="422.54" cy="75.9" rx="7" ry="1.0" fill="#222" opacity="0.55"/>
<rect x="362.50" y="87.60" width="8.8" height="2.0" fill="#333" opacity="0.52"/>
<rect x="371.06" y="88.20" width="8.8" height="2.0" fill="#333" opacity="0.47"/>
<rect x="379.62" y="88.70" width="8.8" height="2.0" fill="#333" opacity="0.47"/>
<rect x="388.18" y="89.00" width="8.8" height="2.0" fill="#333" opacity="0.52"/>
<rect x="396.74" y="89.20" width="8.8" height="2.0" fill="#333" opacity="0.36"/>
<rect x="405.30" y="89.20" width="8.8" height="2.0" fill="#333" opacity="0.40"/>
<rect x="413.86" y="89.30" width="8.8" height="2.0" fill="#333" opacity="0.57"/>
<rect x="422.42" y="89.40" width="8.8" height="2.0" fill="#333" opacity="0.57"/>
<rect x="430.98" y="89.70" width="8.8" height="2.0" fill="#333" opacity="0.68"/>
<rect x="439.54" y="89.70" width="8.8" height="2.0" fill="#333" opacity="0.65"/>
<rect x="448.10" y="89.80" width="8.8" height="2.0" fill="#333" opacity="0.78"/>
<rect x="456.66" y="89.70" width="8.8" height="2.0" fill="#333" opacity="0.74"/>
<rect x="465.22" y="89.40" width="8.8" height="2.0" fill="#333" opacity="0.49"/>
<rect x="473.78" y="89.30" width="8.8" height="2.0" fill="#333" opacity="0.49"/>
<rect x="482.34" y="88.80" width="8.8" height="2.0" fill="#333" opacity="0.62"/>
<rect x="490.90" y="87.90" width="8.8" height="2.0" fill="#333" opacity="0.66"/>
</g>
</svg>
</body></html>
